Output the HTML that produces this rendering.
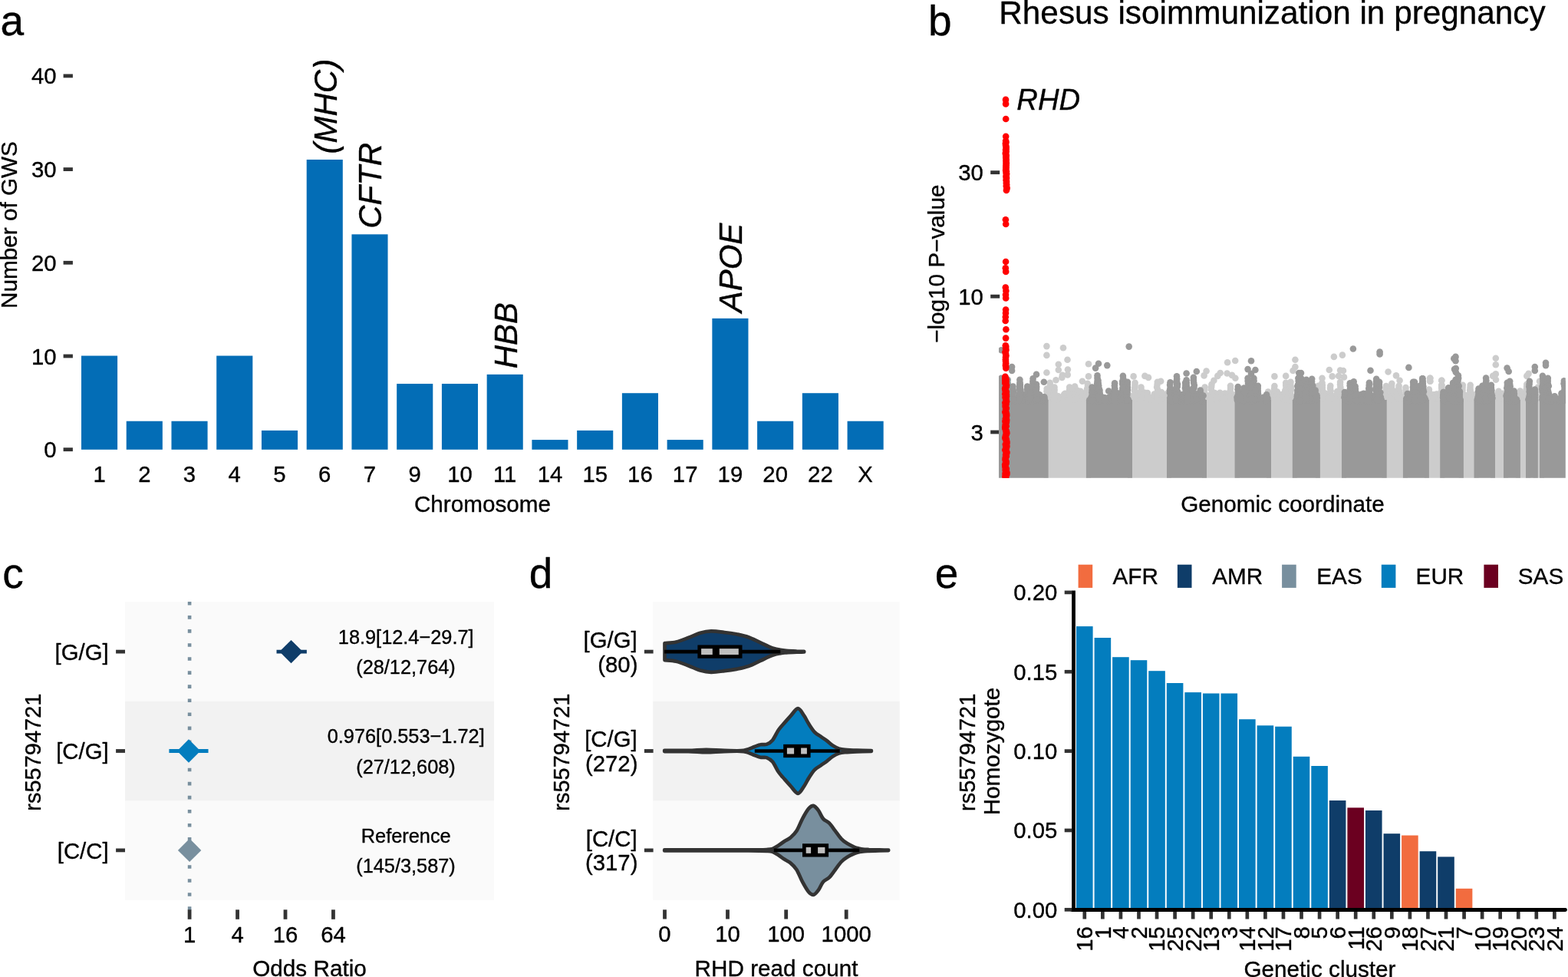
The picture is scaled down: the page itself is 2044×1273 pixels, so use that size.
<!DOCTYPE html>
<html lang="en">
<head>
<meta charset="utf-8">
<title>Rhesus isoimmunization in pregnancy</title>
<style>
html, body { margin: 0; padding: 0; background: #ffffff; }
body { width: 2044px; height: 1273px; overflow: hidden; }
svg { display: block; font-family: "Liberation Sans", sans-serif; }
svg text { stroke: #000; stroke-width: 0.35px; stroke-linejoin: round; }
</style>
</head>
<body>
<svg width="2044" height="1273" viewBox="0 0 2044 1273">
<rect width="2044" height="1273" fill="#ffffff"/>
<g id="panel-a">
<text transform="translate(0.60 46.00)" font-size="55.0" text-anchor="start" fill="#000">a</text>
<line x1="82.60" y1="585.70" x2="94.90" y2="585.70" stroke="#333333" stroke-width="4.8"/>
<text transform="translate(73.60 596.20) scale(1 1.015)" font-size="29.33" text-anchor="end" fill="#000">0</text>
<line x1="82.60" y1="464.00" x2="94.90" y2="464.00" stroke="#333333" stroke-width="4.8"/>
<text transform="translate(73.60 474.50) scale(1 1.015)" font-size="29.33" text-anchor="end" fill="#000">10</text>
<line x1="82.60" y1="342.30" x2="94.90" y2="342.30" stroke="#333333" stroke-width="4.8"/>
<text transform="translate(73.60 352.80) scale(1 1.015)" font-size="29.33" text-anchor="end" fill="#000">20</text>
<line x1="82.60" y1="220.60" x2="94.90" y2="220.60" stroke="#333333" stroke-width="4.8"/>
<text transform="translate(73.60 231.10) scale(1 1.015)" font-size="29.33" text-anchor="end" fill="#000">30</text>
<line x1="82.60" y1="98.90" x2="94.90" y2="98.90" stroke="#333333" stroke-width="4.8"/>
<text transform="translate(73.60 109.40) scale(1 1.015)" font-size="29.33" text-anchor="end" fill="#000">40</text>
<text transform="translate(22.40 293.00) rotate(-90)" font-size="29.7" text-anchor="middle" fill="#000">Number of GWS</text>
<rect x="106.00" y="463.55" width="47.10" height="122.25" fill="#036DB6"/>
<text transform="translate(129.55 628.20) scale(1 1.015)" font-size="29.33" text-anchor="middle" fill="#000">1</text>
<rect x="164.74" y="548.74" width="47.10" height="37.06" fill="#036DB6"/>
<text transform="translate(188.29 628.20) scale(1 1.015)" font-size="29.33" text-anchor="middle" fill="#000">2</text>
<rect x="223.48" y="548.74" width="47.10" height="37.06" fill="#036DB6"/>
<text transform="translate(247.03 628.20) scale(1 1.015)" font-size="29.33" text-anchor="middle" fill="#000">3</text>
<rect x="282.22" y="463.55" width="47.10" height="122.25" fill="#036DB6"/>
<text transform="translate(305.77 628.20) scale(1 1.015)" font-size="29.33" text-anchor="middle" fill="#000">4</text>
<rect x="340.96" y="560.91" width="47.10" height="24.89" fill="#036DB6"/>
<text transform="translate(364.51 628.20) scale(1 1.015)" font-size="29.33" text-anchor="middle" fill="#000">5</text>
<rect x="399.70" y="207.98" width="47.10" height="377.82" fill="#036DB6"/>
<text transform="translate(423.25 628.20) scale(1 1.015)" font-size="29.33" text-anchor="middle" fill="#000">6</text>
<rect x="458.44" y="305.34" width="47.10" height="280.46" fill="#036DB6"/>
<text transform="translate(481.99 628.20) scale(1 1.015)" font-size="29.33" text-anchor="middle" fill="#000">7</text>
<rect x="517.18" y="500.06" width="47.10" height="85.74" fill="#036DB6"/>
<text transform="translate(540.73 628.20) scale(1 1.015)" font-size="29.33" text-anchor="middle" fill="#000">9</text>
<rect x="575.92" y="500.06" width="47.10" height="85.74" fill="#036DB6"/>
<text transform="translate(599.47 628.20) scale(1 1.015)" font-size="29.33" text-anchor="middle" fill="#000">10</text>
<rect x="634.66" y="487.89" width="47.10" height="97.91" fill="#036DB6"/>
<text transform="translate(658.21 628.20) scale(1 1.015)" font-size="29.33" text-anchor="middle" fill="#000">11</text>
<rect x="693.40" y="573.08" width="47.10" height="12.72" fill="#036DB6"/>
<text transform="translate(716.95 628.20) scale(1 1.015)" font-size="29.33" text-anchor="middle" fill="#000">14</text>
<rect x="752.14" y="560.91" width="47.10" height="24.89" fill="#036DB6"/>
<text transform="translate(775.69 628.20) scale(1 1.015)" font-size="29.33" text-anchor="middle" fill="#000">15</text>
<rect x="810.88" y="512.23" width="47.10" height="73.57" fill="#036DB6"/>
<text transform="translate(834.43 628.20) scale(1 1.015)" font-size="29.33" text-anchor="middle" fill="#000">16</text>
<rect x="869.62" y="573.08" width="47.10" height="12.72" fill="#036DB6"/>
<text transform="translate(893.17 628.20) scale(1 1.015)" font-size="29.33" text-anchor="middle" fill="#000">17</text>
<rect x="928.36" y="414.87" width="47.10" height="170.93" fill="#036DB6"/>
<text transform="translate(951.91 628.20) scale(1 1.015)" font-size="29.33" text-anchor="middle" fill="#000">19</text>
<rect x="987.10" y="548.74" width="47.10" height="37.06" fill="#036DB6"/>
<text transform="translate(1010.65 628.20) scale(1 1.015)" font-size="29.33" text-anchor="middle" fill="#000">20</text>
<rect x="1045.84" y="512.23" width="47.10" height="73.57" fill="#036DB6"/>
<text transform="translate(1069.39 628.20) scale(1 1.015)" font-size="29.33" text-anchor="middle" fill="#000">22</text>
<rect x="1104.58" y="548.74" width="47.10" height="37.06" fill="#036DB6"/>
<text transform="translate(1128.13 628.20) scale(1 1.015)" font-size="29.33" text-anchor="middle" fill="#000">X</text>
<text transform="translate(629.00 667.20)" font-size="29.7" text-anchor="middle" fill="#000">Chromosome</text>
<text transform="translate(438.55 200.43) rotate(-90) scale(1 1.03)" font-size="42" text-anchor="start" font-style="italic" fill="#000">(MHC)</text>
<text transform="translate(497.29 297.79) rotate(-90) scale(1 1.03)" font-size="42" text-anchor="start" font-style="italic" fill="#000">CFTR</text>
<text transform="translate(673.51 480.34) rotate(-90) scale(1 1.03)" font-size="42" text-anchor="start" font-style="italic" fill="#000">HBB</text>
<text transform="translate(967.21 407.32) rotate(-90) scale(1 1.03)" font-size="42" text-anchor="start" font-style="italic" fill="#000">APOE</text>
</g>
<g id="panel-b">
<text transform="translate(1210.00 46.00)" font-size="55.0" text-anchor="start" fill="#000">b</text>
<text transform="translate(1302.30 30.70)" font-size="42.3" text-anchor="start" fill="#000">Rhesus isoimmunization in pregnancy</text>
<line x1="1291.20" y1="224.70" x2="1303.20" y2="224.70" stroke="#333333" stroke-width="4.8"/>
<text transform="translate(1281.80 235.20) scale(1 1.015)" font-size="29.33" text-anchor="end" fill="#000">30</text>
<line x1="1291.20" y1="386.20" x2="1303.20" y2="386.20" stroke="#333333" stroke-width="4.8"/>
<text transform="translate(1281.80 396.70) scale(1 1.015)" font-size="29.33" text-anchor="end" fill="#000">10</text>
<line x1="1291.20" y1="563.00" x2="1303.20" y2="563.00" stroke="#333333" stroke-width="4.8"/>
<text transform="translate(1281.80 573.50) scale(1 1.015)" font-size="29.33" text-anchor="end" fill="#000">3</text>
<text transform="translate(1230.80 343.70) rotate(-90)" font-size="29.7" text-anchor="middle" fill="#000">−log10 P−value</text>
<text transform="translate(1672.00 667.20)" font-size="29.7" text-anchor="middle" fill="#000">Genomic coordinate</text>
<text transform="translate(1325.30 143.00) scale(1 1.02)" font-size="38.2" text-anchor="start" font-style="italic" fill="#000">RHD</text>
<clipPath id="clipb"><rect x="1302.0" y="0" width="738.80" height="622.8"/></clipPath>
<g clip-path="url(#clipb)">
<g fill="#CCCCCC">
<rect x="1360.6" y="518.5" width="61.3" height="106.3"/>
<rect x="1470.0" y="518.5" width="57.0" height="106.3"/>
<rect x="1567.0" y="518.5" width="48.6" height="106.3"/>
<rect x="1651.0" y="518.5" width="39.8" height="106.3"/>
<rect x="1714.9" y="518.5" width="40.1" height="106.3"/>
<rect x="1801.7" y="518.5" width="33.2" height="106.3"/>
<rect x="1856.9" y="518.5" width="26.3" height="106.3"/>
<rect x="1901.9" y="518.5" width="25.6" height="106.3"/>
<rect x="1943.0" y="518.5" width="23.0" height="106.3"/>
<rect x="1975.9" y="518.5" width="19.1" height="106.3"/>
<rect x="1998.8" y="518.5" width="14.2" height="106.3"/>
<circle cx="1401.4" cy="511.8" r="4.3"/>
<circle cx="1388.5" cy="512.8" r="4.3"/>
<circle cx="1417.0" cy="511.9" r="4.3"/>
<circle cx="1384.1" cy="519.4" r="4.3"/>
<circle cx="1376.9" cy="519.4" r="4.3"/>
<circle cx="1375.7" cy="517.5" r="4.3"/>
<circle cx="1412.3" cy="515.2" r="4.3"/>
<circle cx="1390.2" cy="517.2" r="4.3"/>
<circle cx="1407.0" cy="519.8" r="4.3"/>
<circle cx="1399.7" cy="513.7" r="4.3"/>
<circle cx="1406.1" cy="516.4" r="4.3"/>
<circle cx="1390.1" cy="519.5" r="4.3"/>
<circle cx="1406.5" cy="518.9" r="4.3"/>
<circle cx="1407.1" cy="510.7" r="4.3"/>
<circle cx="1385.8" cy="518.7" r="4.3"/>
<circle cx="1414.8" cy="516.6" r="4.3"/>
<circle cx="1373.9" cy="519.6" r="4.3"/>
<circle cx="1372.9" cy="513.9" r="4.3"/>
<circle cx="1407.4" cy="519.6" r="4.3"/>
<circle cx="1408.5" cy="509.8" r="4.3"/>
<circle cx="1399.5" cy="518.9" r="4.3"/>
<circle cx="1393.8" cy="519.6" r="4.3"/>
<circle cx="1365.7" cy="510.8" r="4.3"/>
<circle cx="1399.1" cy="518.1" r="4.3"/>
<circle cx="1414.1" cy="518.5" r="4.3"/>
<circle cx="1410.8" cy="515.5" r="4.3"/>
<circle cx="1376.0" cy="519.2" r="4.3"/>
<circle cx="1380.3" cy="519.3" r="4.3"/>
<circle cx="1395.8" cy="519.2" r="4.3"/>
<circle cx="1387.0" cy="519.6" r="4.3"/>
<circle cx="1412.9" cy="518.9" r="4.3"/>
<circle cx="1389.0" cy="517.7" r="4.3"/>
<circle cx="1412.6" cy="518.6" r="4.3"/>
<circle cx="1413.3" cy="518.2" r="4.3"/>
<circle cx="1392.9" cy="518.1" r="4.3"/>
<circle cx="1365.9" cy="518.5" r="4.3"/>
<circle cx="1374.5" cy="520.0" r="4.3"/>
<circle cx="1407.0" cy="519.5" r="4.3"/>
<circle cx="1389.9" cy="516.6" r="4.3"/>
<circle cx="1394.2" cy="519.0" r="4.3"/>
<circle cx="1392.2" cy="517.9" r="4.3"/>
<circle cx="1406.2" cy="519.7" r="4.3"/>
<circle cx="1394.4" cy="519.3" r="4.3"/>
<circle cx="1379.5" cy="516.2" r="4.3"/>
<circle cx="1391.7" cy="517.9" r="4.3"/>
<circle cx="1405.0" cy="513.7" r="4.3"/>
<circle cx="1388.3" cy="517.5" r="4.3"/>
<circle cx="1391.5" cy="518.1" r="4.3"/>
<circle cx="1401.4" cy="518.4" r="4.3"/>
<circle cx="1393.0" cy="518.3" r="4.3"/>
<circle cx="1414.5" cy="516.9" r="4.3"/>
<circle cx="1411.1" cy="512.6" r="4.3"/>
<circle cx="1378.6" cy="517.9" r="4.3"/>
<circle cx="1414.6" cy="515.2" r="4.3"/>
<circle cx="1372.1" cy="519.7" r="4.3"/>
<circle cx="1388.2" cy="519.8" r="4.3"/>
<circle cx="1377.6" cy="519.8" r="4.3"/>
<circle cx="1400.2" cy="516.0" r="4.3"/>
<circle cx="1412.2" cy="519.6" r="4.3"/>
<circle cx="1402.6" cy="517.2" r="4.3"/>
<circle cx="1372.4" cy="514.4" r="4.3"/>
<circle cx="1415.9" cy="519.4" r="4.3"/>
<circle cx="1415.1" cy="518.7" r="4.3"/>
<circle cx="1390.6" cy="515.0" r="4.3"/>
<circle cx="1373.4" cy="518.5" r="4.3"/>
<circle cx="1392.1" cy="518.9" r="4.3"/>
<circle cx="1375.2" cy="519.0" r="4.3"/>
<circle cx="1403.0" cy="519.9" r="4.3"/>
<circle cx="1394.1" cy="518.5" r="4.3"/>
<circle cx="1365.9" cy="519.0" r="4.3"/>
<circle cx="1397.8" cy="518.1" r="4.3"/>
<circle cx="1368.3" cy="509.1" r="4.3"/>
<circle cx="1406.4" cy="510.7" r="4.3"/>
<circle cx="1370.4" cy="519.2" r="4.3"/>
<circle cx="1367.0" cy="516.1" r="4.3"/>
<circle cx="1379.2" cy="519.6" r="4.3"/>
<circle cx="1387.2" cy="513.7" r="4.3"/>
<circle cx="1408.1" cy="519.2" r="4.3"/>
<circle cx="1372.8" cy="513.5" r="4.3"/>
<circle cx="1481.4" cy="519.2" r="4.3"/>
<circle cx="1510.3" cy="519.1" r="4.3"/>
<circle cx="1501.8" cy="520.0" r="4.3"/>
<circle cx="1477.2" cy="519.2" r="4.3"/>
<circle cx="1506.8" cy="516.9" r="4.3"/>
<circle cx="1507.0" cy="519.1" r="4.3"/>
<circle cx="1499.3" cy="518.4" r="4.3"/>
<circle cx="1496.9" cy="519.7" r="4.3"/>
<circle cx="1517.6" cy="519.4" r="4.3"/>
<circle cx="1521.6" cy="512.8" r="4.3"/>
<circle cx="1475.1" cy="518.4" r="4.3"/>
<circle cx="1514.0" cy="511.0" r="4.3"/>
<circle cx="1496.1" cy="519.2" r="4.3"/>
<circle cx="1484.5" cy="512.4" r="4.3"/>
<circle cx="1484.5" cy="517.7" r="4.3"/>
<circle cx="1481.2" cy="518.1" r="4.3"/>
<circle cx="1520.4" cy="519.6" r="4.3"/>
<circle cx="1514.0" cy="518.2" r="4.3"/>
<circle cx="1517.2" cy="516.8" r="4.3"/>
<circle cx="1485.5" cy="514.1" r="4.3"/>
<circle cx="1497.8" cy="519.9" r="4.3"/>
<circle cx="1474.5" cy="518.2" r="4.3"/>
<circle cx="1496.1" cy="519.1" r="4.3"/>
<circle cx="1481.1" cy="518.9" r="4.3"/>
<circle cx="1489.6" cy="515.2" r="4.3"/>
<circle cx="1474.4" cy="516.4" r="4.3"/>
<circle cx="1514.9" cy="519.7" r="4.3"/>
<circle cx="1519.1" cy="516.8" r="4.3"/>
<circle cx="1517.9" cy="519.1" r="4.3"/>
<circle cx="1492.3" cy="518.7" r="4.3"/>
<circle cx="1522.6" cy="517.7" r="4.3"/>
<circle cx="1491.8" cy="518.5" r="4.3"/>
<circle cx="1487.6" cy="519.9" r="4.3"/>
<circle cx="1479.2" cy="515.3" r="4.3"/>
<circle cx="1488.1" cy="512.9" r="4.3"/>
<circle cx="1486.4" cy="519.2" r="4.3"/>
<circle cx="1499.0" cy="519.5" r="4.3"/>
<circle cx="1492.4" cy="511.9" r="4.3"/>
<circle cx="1517.1" cy="515.7" r="4.3"/>
<circle cx="1504.8" cy="513.6" r="4.3"/>
<circle cx="1519.8" cy="517.9" r="4.3"/>
<circle cx="1509.1" cy="519.9" r="4.3"/>
<circle cx="1509.7" cy="518.4" r="4.3"/>
<circle cx="1510.7" cy="517.3" r="4.3"/>
<circle cx="1488.2" cy="519.9" r="4.3"/>
<circle cx="1519.2" cy="519.6" r="4.3"/>
<circle cx="1497.2" cy="518.9" r="4.3"/>
<circle cx="1488.7" cy="516.5" r="4.3"/>
<circle cx="1521.6" cy="519.2" r="4.3"/>
<circle cx="1506.1" cy="519.1" r="4.3"/>
<circle cx="1501.3" cy="518.7" r="4.3"/>
<circle cx="1482.4" cy="519.5" r="4.3"/>
<circle cx="1484.4" cy="513.9" r="4.3"/>
<circle cx="1498.4" cy="519.4" r="4.3"/>
<circle cx="1518.2" cy="517.3" r="4.3"/>
<circle cx="1481.1" cy="519.4" r="4.3"/>
<circle cx="1478.7" cy="518.9" r="4.3"/>
<circle cx="1478.7" cy="519.3" r="4.3"/>
<circle cx="1486.8" cy="517.8" r="4.3"/>
<circle cx="1517.2" cy="516.4" r="4.3"/>
<circle cx="1494.3" cy="518.6" r="4.3"/>
<circle cx="1499.7" cy="518.8" r="4.3"/>
<circle cx="1490.7" cy="519.8" r="4.3"/>
<circle cx="1487.7" cy="511.1" r="4.3"/>
<circle cx="1480.4" cy="518.2" r="4.3"/>
<circle cx="1504.8" cy="514.8" r="4.3"/>
<circle cx="1484.8" cy="519.2" r="4.3"/>
<circle cx="1486.3" cy="518.7" r="4.3"/>
<circle cx="1495.9" cy="512.0" r="4.3"/>
<circle cx="1515.4" cy="514.6" r="4.3"/>
<circle cx="1475.4" cy="519.9" r="4.3"/>
<circle cx="1508.6" cy="514.1" r="4.3"/>
<circle cx="1497.2" cy="517.7" r="4.3"/>
<circle cx="1474.3" cy="518.7" r="4.3"/>
<circle cx="1582.3" cy="520.0" r="4.3"/>
<circle cx="1601.5" cy="513.5" r="4.3"/>
<circle cx="1596.7" cy="512.5" r="4.3"/>
<circle cx="1572.3" cy="519.3" r="4.3"/>
<circle cx="1590.3" cy="511.8" r="4.3"/>
<circle cx="1609.5" cy="518.7" r="4.3"/>
<circle cx="1581.3" cy="518.5" r="4.3"/>
<circle cx="1591.0" cy="513.2" r="4.3"/>
<circle cx="1578.6" cy="515.8" r="4.3"/>
<circle cx="1600.8" cy="515.5" r="4.3"/>
<circle cx="1602.2" cy="517.6" r="4.3"/>
<circle cx="1584.4" cy="519.0" r="4.3"/>
<circle cx="1585.8" cy="516.0" r="4.3"/>
<circle cx="1574.5" cy="519.4" r="4.3"/>
<circle cx="1601.4" cy="519.3" r="4.3"/>
<circle cx="1573.9" cy="519.9" r="4.3"/>
<circle cx="1593.4" cy="519.0" r="4.3"/>
<circle cx="1610.5" cy="514.4" r="4.3"/>
<circle cx="1610.8" cy="519.2" r="4.3"/>
<circle cx="1574.7" cy="519.7" r="4.3"/>
<circle cx="1591.2" cy="516.8" r="4.3"/>
<circle cx="1589.2" cy="519.3" r="4.3"/>
<circle cx="1588.0" cy="517.5" r="4.3"/>
<circle cx="1598.3" cy="516.4" r="4.3"/>
<circle cx="1605.2" cy="517.2" r="4.3"/>
<circle cx="1576.1" cy="515.2" r="4.3"/>
<circle cx="1583.1" cy="517.8" r="4.3"/>
<circle cx="1586.2" cy="516.5" r="4.3"/>
<circle cx="1579.3" cy="519.3" r="4.3"/>
<circle cx="1581.1" cy="519.6" r="4.3"/>
<circle cx="1606.7" cy="517.8" r="4.3"/>
<circle cx="1584.4" cy="518.7" r="4.3"/>
<circle cx="1611.0" cy="518.2" r="4.3"/>
<circle cx="1580.6" cy="515.7" r="4.3"/>
<circle cx="1597.4" cy="519.4" r="4.3"/>
<circle cx="1590.3" cy="515.6" r="4.3"/>
<circle cx="1604.9" cy="513.6" r="4.3"/>
<circle cx="1572.9" cy="519.1" r="4.3"/>
<circle cx="1576.1" cy="519.5" r="4.3"/>
<circle cx="1610.2" cy="517.7" r="4.3"/>
<circle cx="1608.5" cy="518.8" r="4.3"/>
<circle cx="1605.9" cy="518.4" r="4.3"/>
<circle cx="1581.7" cy="516.1" r="4.3"/>
<circle cx="1609.1" cy="519.7" r="4.3"/>
<circle cx="1595.1" cy="517.5" r="4.3"/>
<circle cx="1580.0" cy="518.8" r="4.3"/>
<circle cx="1577.0" cy="519.4" r="4.3"/>
<circle cx="1581.5" cy="517.6" r="4.3"/>
<circle cx="1597.4" cy="519.4" r="4.3"/>
<circle cx="1571.8" cy="519.0" r="4.3"/>
<circle cx="1598.4" cy="519.5" r="4.3"/>
<circle cx="1583.8" cy="519.4" r="4.3"/>
<circle cx="1603.1" cy="517.9" r="4.3"/>
<circle cx="1573.8" cy="519.7" r="4.3"/>
<circle cx="1587.1" cy="517.9" r="4.3"/>
<circle cx="1596.9" cy="519.8" r="4.3"/>
<circle cx="1577.8" cy="516.9" r="4.3"/>
<circle cx="1587.7" cy="519.1" r="4.3"/>
<circle cx="1583.6" cy="512.0" r="4.3"/>
<circle cx="1583.8" cy="517.8" r="4.3"/>
<circle cx="1585.6" cy="518.6" r="4.3"/>
<circle cx="1605.9" cy="517.8" r="4.3"/>
<circle cx="1579.2" cy="516.6" r="4.3"/>
<circle cx="1684.5" cy="517.0" r="4.3"/>
<circle cx="1683.2" cy="519.5" r="4.3"/>
<circle cx="1679.8" cy="519.7" r="4.3"/>
<circle cx="1671.9" cy="517.4" r="4.3"/>
<circle cx="1666.5" cy="514.6" r="4.3"/>
<circle cx="1672.6" cy="517.7" r="4.3"/>
<circle cx="1682.8" cy="519.7" r="4.3"/>
<circle cx="1686.3" cy="517.4" r="4.3"/>
<circle cx="1667.6" cy="515.8" r="4.3"/>
<circle cx="1663.6" cy="516.5" r="4.3"/>
<circle cx="1666.5" cy="516.2" r="4.3"/>
<circle cx="1669.1" cy="519.5" r="4.3"/>
<circle cx="1678.5" cy="519.9" r="4.3"/>
<circle cx="1680.9" cy="519.2" r="4.3"/>
<circle cx="1675.2" cy="509.2" r="4.3"/>
<circle cx="1673.6" cy="517.2" r="4.3"/>
<circle cx="1665.1" cy="520.0" r="4.3"/>
<circle cx="1656.4" cy="519.6" r="4.3"/>
<circle cx="1674.5" cy="518.5" r="4.3"/>
<circle cx="1671.3" cy="514.1" r="4.3"/>
<circle cx="1659.4" cy="519.3" r="4.3"/>
<circle cx="1675.7" cy="519.9" r="4.3"/>
<circle cx="1655.4" cy="518.9" r="4.3"/>
<circle cx="1658.6" cy="518.9" r="4.3"/>
<circle cx="1662.3" cy="517.7" r="4.3"/>
<circle cx="1673.7" cy="519.4" r="4.3"/>
<circle cx="1674.8" cy="518.3" r="4.3"/>
<circle cx="1659.5" cy="512.8" r="4.3"/>
<circle cx="1662.9" cy="519.6" r="4.3"/>
<circle cx="1658.3" cy="517.4" r="4.3"/>
<circle cx="1682.5" cy="516.0" r="4.3"/>
<circle cx="1667.8" cy="519.2" r="4.3"/>
<circle cx="1655.7" cy="517.3" r="4.3"/>
<circle cx="1672.8" cy="518.9" r="4.3"/>
<circle cx="1675.4" cy="518.5" r="4.3"/>
<circle cx="1684.5" cy="516.6" r="4.3"/>
<circle cx="1663.1" cy="513.9" r="4.3"/>
<circle cx="1656.7" cy="518.0" r="4.3"/>
<circle cx="1668.0" cy="519.3" r="4.3"/>
<circle cx="1657.1" cy="516.1" r="4.3"/>
<circle cx="1655.7" cy="517.9" r="4.3"/>
<circle cx="1684.7" cy="519.6" r="4.3"/>
<circle cx="1661.5" cy="517.6" r="4.3"/>
<circle cx="1671.1" cy="517.3" r="4.3"/>
<circle cx="1680.7" cy="519.5" r="4.3"/>
<circle cx="1665.0" cy="519.1" r="4.3"/>
<circle cx="1656.8" cy="514.3" r="4.3"/>
<circle cx="1679.7" cy="516.7" r="4.3"/>
<circle cx="1655.5" cy="515.2" r="4.3"/>
<circle cx="1678.5" cy="518.4" r="4.3"/>
<circle cx="1678.4" cy="518.4" r="4.3"/>
<circle cx="1746.0" cy="517.5" r="4.3"/>
<circle cx="1720.2" cy="518.6" r="4.3"/>
<circle cx="1732.9" cy="516.1" r="4.3"/>
<circle cx="1730.1" cy="516.8" r="4.3"/>
<circle cx="1736.1" cy="519.4" r="4.3"/>
<circle cx="1746.4" cy="519.8" r="4.3"/>
<circle cx="1745.0" cy="519.5" r="4.3"/>
<circle cx="1719.2" cy="519.4" r="4.3"/>
<circle cx="1743.2" cy="510.1" r="4.3"/>
<circle cx="1719.3" cy="518.2" r="4.3"/>
<circle cx="1734.7" cy="515.9" r="4.3"/>
<circle cx="1725.0" cy="518.2" r="4.3"/>
<circle cx="1730.1" cy="515.4" r="4.3"/>
<circle cx="1727.4" cy="512.5" r="4.3"/>
<circle cx="1728.1" cy="519.4" r="4.3"/>
<circle cx="1741.2" cy="518.2" r="4.3"/>
<circle cx="1722.7" cy="517.4" r="4.3"/>
<circle cx="1721.7" cy="516.0" r="4.3"/>
<circle cx="1741.2" cy="516.0" r="4.3"/>
<circle cx="1739.0" cy="518.9" r="4.3"/>
<circle cx="1731.8" cy="518.7" r="4.3"/>
<circle cx="1747.2" cy="519.8" r="4.3"/>
<circle cx="1747.2" cy="519.9" r="4.3"/>
<circle cx="1725.7" cy="519.2" r="4.3"/>
<circle cx="1747.6" cy="518.2" r="4.3"/>
<circle cx="1731.1" cy="514.4" r="4.3"/>
<circle cx="1726.6" cy="518.4" r="4.3"/>
<circle cx="1735.9" cy="516.3" r="4.3"/>
<circle cx="1742.9" cy="517.3" r="4.3"/>
<circle cx="1730.2" cy="519.0" r="4.3"/>
<circle cx="1724.1" cy="515.2" r="4.3"/>
<circle cx="1740.1" cy="516.5" r="4.3"/>
<circle cx="1724.5" cy="518.5" r="4.3"/>
<circle cx="1743.6" cy="517.7" r="4.3"/>
<circle cx="1723.2" cy="518.4" r="4.3"/>
<circle cx="1747.1" cy="519.3" r="4.3"/>
<circle cx="1725.2" cy="519.1" r="4.3"/>
<circle cx="1741.3" cy="515.2" r="4.3"/>
<circle cx="1724.1" cy="519.6" r="4.3"/>
<circle cx="1727.0" cy="519.0" r="4.3"/>
<circle cx="1735.6" cy="519.5" r="4.3"/>
<circle cx="1729.5" cy="519.5" r="4.3"/>
<circle cx="1749.9" cy="516.6" r="4.3"/>
<circle cx="1722.4" cy="511.5" r="4.3"/>
<circle cx="1722.4" cy="518.7" r="4.3"/>
<circle cx="1750.2" cy="515.9" r="4.3"/>
<circle cx="1742.3" cy="518.5" r="4.3"/>
<circle cx="1725.4" cy="517.4" r="4.3"/>
<circle cx="1722.6" cy="519.4" r="4.3"/>
<circle cx="1731.4" cy="519.9" r="4.3"/>
<circle cx="1731.8" cy="515.9" r="4.3"/>
<circle cx="1741.0" cy="518.2" r="4.3"/>
<circle cx="1811.8" cy="519.6" r="4.3"/>
<circle cx="1818.1" cy="519.8" r="4.3"/>
<circle cx="1817.5" cy="519.6" r="4.3"/>
<circle cx="1818.1" cy="518.2" r="4.3"/>
<circle cx="1819.3" cy="514.8" r="4.3"/>
<circle cx="1806.2" cy="515.2" r="4.3"/>
<circle cx="1817.5" cy="517.9" r="4.3"/>
<circle cx="1822.4" cy="515.2" r="4.3"/>
<circle cx="1815.2" cy="518.6" r="4.3"/>
<circle cx="1829.6" cy="519.8" r="4.3"/>
<circle cx="1821.7" cy="517.4" r="4.3"/>
<circle cx="1806.7" cy="517.6" r="4.3"/>
<circle cx="1822.8" cy="513.0" r="4.3"/>
<circle cx="1814.1" cy="509.6" r="4.3"/>
<circle cx="1818.6" cy="518.3" r="4.3"/>
<circle cx="1828.1" cy="519.9" r="4.3"/>
<circle cx="1823.7" cy="517.4" r="4.3"/>
<circle cx="1814.3" cy="514.9" r="4.3"/>
<circle cx="1815.0" cy="518.3" r="4.3"/>
<circle cx="1818.9" cy="516.2" r="4.3"/>
<circle cx="1811.2" cy="518.5" r="4.3"/>
<circle cx="1816.4" cy="517.9" r="4.3"/>
<circle cx="1826.3" cy="519.1" r="4.3"/>
<circle cx="1826.4" cy="518.7" r="4.3"/>
<circle cx="1818.4" cy="519.2" r="4.3"/>
<circle cx="1818.5" cy="510.4" r="4.3"/>
<circle cx="1822.1" cy="515.9" r="4.3"/>
<circle cx="1814.1" cy="519.0" r="4.3"/>
<circle cx="1813.4" cy="517.7" r="4.3"/>
<circle cx="1821.6" cy="516.0" r="4.3"/>
<circle cx="1807.0" cy="516.7" r="4.3"/>
<circle cx="1827.8" cy="518.0" r="4.3"/>
<circle cx="1807.2" cy="519.1" r="4.3"/>
<circle cx="1806.2" cy="519.5" r="4.3"/>
<circle cx="1828.7" cy="517.6" r="4.3"/>
<circle cx="1822.2" cy="516.0" r="4.3"/>
<circle cx="1828.4" cy="517.5" r="4.3"/>
<circle cx="1821.2" cy="517.4" r="4.3"/>
<circle cx="1823.1" cy="517.6" r="4.3"/>
<circle cx="1822.8" cy="519.4" r="4.3"/>
<circle cx="1822.4" cy="518.4" r="4.3"/>
<circle cx="1824.8" cy="519.7" r="4.3"/>
<circle cx="1810.5" cy="519.9" r="4.3"/>
<circle cx="1873.6" cy="515.4" r="4.3"/>
<circle cx="1867.1" cy="517.6" r="4.3"/>
<circle cx="1878.5" cy="515.4" r="4.3"/>
<circle cx="1871.8" cy="519.0" r="4.3"/>
<circle cx="1868.8" cy="514.3" r="4.3"/>
<circle cx="1867.9" cy="517.0" r="4.3"/>
<circle cx="1871.9" cy="514.1" r="4.3"/>
<circle cx="1875.5" cy="519.1" r="4.3"/>
<circle cx="1861.2" cy="519.2" r="4.3"/>
<circle cx="1868.7" cy="517.7" r="4.3"/>
<circle cx="1875.6" cy="514.3" r="4.3"/>
<circle cx="1861.9" cy="515.3" r="4.3"/>
<circle cx="1875.6" cy="514.8" r="4.3"/>
<circle cx="1871.3" cy="519.2" r="4.3"/>
<circle cx="1876.3" cy="515.7" r="4.3"/>
<circle cx="1873.3" cy="513.6" r="4.3"/>
<circle cx="1867.3" cy="519.8" r="4.3"/>
<circle cx="1871.0" cy="515.8" r="4.3"/>
<circle cx="1864.7" cy="516.4" r="4.3"/>
<circle cx="1877.7" cy="519.3" r="4.3"/>
<circle cx="1871.9" cy="517.1" r="4.3"/>
<circle cx="1869.4" cy="519.4" r="4.3"/>
<circle cx="1865.7" cy="516.4" r="4.3"/>
<circle cx="1875.2" cy="518.4" r="4.3"/>
<circle cx="1862.8" cy="515.7" r="4.3"/>
<circle cx="1874.9" cy="519.3" r="4.3"/>
<circle cx="1871.5" cy="514.1" r="4.3"/>
<circle cx="1876.9" cy="518.1" r="4.3"/>
<circle cx="1869.6" cy="517.7" r="4.3"/>
<circle cx="1864.5" cy="519.4" r="4.3"/>
<circle cx="1864.4" cy="516.9" r="4.3"/>
<circle cx="1867.6" cy="517.8" r="4.3"/>
<circle cx="1868.3" cy="518.1" r="4.3"/>
<circle cx="1863.8" cy="519.9" r="4.3"/>
<circle cx="1909.5" cy="519.9" r="4.3"/>
<circle cx="1922.0" cy="519.4" r="4.3"/>
<circle cx="1922.1" cy="514.8" r="4.3"/>
<circle cx="1921.3" cy="519.6" r="4.3"/>
<circle cx="1913.8" cy="519.7" r="4.3"/>
<circle cx="1922.0" cy="515.2" r="4.3"/>
<circle cx="1916.9" cy="518.4" r="4.3"/>
<circle cx="1912.0" cy="515.5" r="4.3"/>
<circle cx="1914.3" cy="517.4" r="4.3"/>
<circle cx="1908.6" cy="519.3" r="4.3"/>
<circle cx="1907.2" cy="516.7" r="4.3"/>
<circle cx="1915.6" cy="519.6" r="4.3"/>
<circle cx="1921.0" cy="519.2" r="4.3"/>
<circle cx="1913.2" cy="519.6" r="4.3"/>
<circle cx="1910.8" cy="515.2" r="4.3"/>
<circle cx="1911.9" cy="519.5" r="4.3"/>
<circle cx="1914.5" cy="519.0" r="4.3"/>
<circle cx="1921.6" cy="519.7" r="4.3"/>
<circle cx="1922.8" cy="519.8" r="4.3"/>
<circle cx="1921.4" cy="517.1" r="4.3"/>
<circle cx="1909.8" cy="518.3" r="4.3"/>
<circle cx="1911.1" cy="519.2" r="4.3"/>
<circle cx="1909.6" cy="518.8" r="4.3"/>
<circle cx="1923.0" cy="514.4" r="4.3"/>
<circle cx="1907.9" cy="519.1" r="4.3"/>
<circle cx="1921.4" cy="519.8" r="4.3"/>
<circle cx="1918.6" cy="519.1" r="4.3"/>
<circle cx="1922.8" cy="520.0" r="4.3"/>
<circle cx="1919.9" cy="518.9" r="4.3"/>
<circle cx="1908.6" cy="520.0" r="4.3"/>
<circle cx="1920.3" cy="518.1" r="4.3"/>
<circle cx="1909.4" cy="518.5" r="4.3"/>
<circle cx="1921.7" cy="519.4" r="4.3"/>
<circle cx="1955.6" cy="518.1" r="4.3"/>
<circle cx="1957.4" cy="519.7" r="4.3"/>
<circle cx="1959.8" cy="516.7" r="4.3"/>
<circle cx="1948.0" cy="519.7" r="4.3"/>
<circle cx="1954.4" cy="518.2" r="4.3"/>
<circle cx="1951.3" cy="519.7" r="4.3"/>
<circle cx="1953.1" cy="519.6" r="4.3"/>
<circle cx="1955.8" cy="514.9" r="4.3"/>
<circle cx="1949.4" cy="517.8" r="4.3"/>
<circle cx="1958.1" cy="519.5" r="4.3"/>
<circle cx="1959.2" cy="512.8" r="4.3"/>
<circle cx="1952.9" cy="518.6" r="4.3"/>
<circle cx="1959.4" cy="518.1" r="4.3"/>
<circle cx="1953.0" cy="512.6" r="4.3"/>
<circle cx="1958.5" cy="518.9" r="4.3"/>
<circle cx="1950.8" cy="518.9" r="4.3"/>
<circle cx="1953.6" cy="509.7" r="4.3"/>
<circle cx="1958.9" cy="513.7" r="4.3"/>
<circle cx="1959.0" cy="515.1" r="4.3"/>
<circle cx="1948.1" cy="518.1" r="4.3"/>
<circle cx="1961.1" cy="512.9" r="4.3"/>
<circle cx="1950.9" cy="518.6" r="4.3"/>
<circle cx="1956.4" cy="518.8" r="4.3"/>
<circle cx="1954.9" cy="519.8" r="4.3"/>
<circle cx="1953.5" cy="518.2" r="4.3"/>
<circle cx="1947.6" cy="519.6" r="4.3"/>
<circle cx="1961.3" cy="516.1" r="4.3"/>
<circle cx="1960.8" cy="517.4" r="4.3"/>
<circle cx="1959.0" cy="514.4" r="4.3"/>
<circle cx="1988.3" cy="519.6" r="4.3"/>
<circle cx="1980.9" cy="514.7" r="4.3"/>
<circle cx="1984.8" cy="519.8" r="4.3"/>
<circle cx="1984.3" cy="518.5" r="4.3"/>
<circle cx="1987.9" cy="519.7" r="4.3"/>
<circle cx="1982.6" cy="511.7" r="4.3"/>
<circle cx="1988.0" cy="519.6" r="4.3"/>
<circle cx="1983.7" cy="518.9" r="4.3"/>
<circle cx="1987.3" cy="517.5" r="4.3"/>
<circle cx="1989.1" cy="515.5" r="4.3"/>
<circle cx="1985.6" cy="516.5" r="4.3"/>
<circle cx="1988.0" cy="516.3" r="4.3"/>
<circle cx="1985.2" cy="516.0" r="4.3"/>
<circle cx="1987.6" cy="513.6" r="4.3"/>
<circle cx="1981.5" cy="514.7" r="4.3"/>
<circle cx="1980.2" cy="516.2" r="4.3"/>
<circle cx="1986.4" cy="518.2" r="4.3"/>
<circle cx="1990.3" cy="517.8" r="4.3"/>
<circle cx="1984.6" cy="516.0" r="4.3"/>
<circle cx="1989.4" cy="517.6" r="4.3"/>
<circle cx="1984.2" cy="518.4" r="4.3"/>
<circle cx="1985.0" cy="516.7" r="4.3"/>
<circle cx="1983.3" cy="518.7" r="4.3"/>
<circle cx="1986.0" cy="518.7" r="4.3"/>
<circle cx="2006.2" cy="517.8" r="4.3"/>
<circle cx="2008.0" cy="511.3" r="4.3"/>
<circle cx="2005.8" cy="518.5" r="4.3"/>
<circle cx="2006.6" cy="517.9" r="4.3"/>
<circle cx="2006.1" cy="515.6" r="4.3"/>
<circle cx="2004.1" cy="519.0" r="4.3"/>
<circle cx="2008.6" cy="515.5" r="4.3"/>
<circle cx="2006.0" cy="519.7" r="4.3"/>
<circle cx="2008.1" cy="517.0" r="4.3"/>
<circle cx="2007.7" cy="514.7" r="4.3"/>
<circle cx="2005.5" cy="519.6" r="4.3"/>
<circle cx="2004.7" cy="518.1" r="4.3"/>
<circle cx="2005.9" cy="519.5" r="4.3"/>
<circle cx="2004.1" cy="517.4" r="4.3"/>
<circle cx="2006.5" cy="518.9" r="4.3"/>
<circle cx="2008.7" cy="517.4" r="4.3"/>
<circle cx="2003.3" cy="518.6" r="4.3"/>
<circle cx="2007.5" cy="519.0" r="4.3"/>
<circle cx="1364.4" cy="451.1" r="4.3"/>
<circle cx="1364.4" cy="462.9" r="4.3"/>
<circle cx="1386.0" cy="453.3" r="4.3"/>
<circle cx="1391.5" cy="468.8" r="4.3"/>
<circle cx="1379.8" cy="474.7" r="4.3"/>
<circle cx="1379.8" cy="482.0" r="4.3"/>
<circle cx="1391.9" cy="481.5" r="4.3"/>
<circle cx="1364.4" cy="485.5" r="4.3"/>
<circle cx="1384.9" cy="488.9" r="4.3"/>
<circle cx="1391.7" cy="488.4" r="4.3"/>
<circle cx="1376.5" cy="495.3" r="4.3"/>
<circle cx="1368.7" cy="498.7" r="4.3"/>
<circle cx="1384.4" cy="491.9" r="4.3"/>
<circle cx="1364.7" cy="506.6" r="4.3"/>
<circle cx="1374.5" cy="504.6" r="4.3"/>
<circle cx="1419.0" cy="474.2" r="4.3"/>
<circle cx="1419.0" cy="490.4" r="4.3"/>
<circle cx="1410.9" cy="496.8" r="4.3"/>
<circle cx="1417.7" cy="499.7" r="4.3"/>
<circle cx="1394.2" cy="504.6" r="4.3"/>
<circle cx="1401.1" cy="503.6" r="4.3"/>
<circle cx="1404.0" cy="508.5" r="4.3"/>
<circle cx="1416.8" cy="508.5" r="4.3"/>
<circle cx="1477.6" cy="490.4" r="4.3"/>
<circle cx="1479.6" cy="498.7" r="4.3"/>
<circle cx="1492.4" cy="489.9" r="4.3"/>
<circle cx="1487.5" cy="504.6" r="4.3"/>
<circle cx="1497.0" cy="491.9" r="4.3"/>
<circle cx="1508.8" cy="497.7" r="4.3"/>
<circle cx="1513.2" cy="496.8" r="4.3"/>
<circle cx="1572.6" cy="483.5" r="4.3"/>
<circle cx="1569.6" cy="489.4" r="4.3"/>
<circle cx="1600.1" cy="472.2" r="4.3"/>
<circle cx="1610.2" cy="470.0" r="4.3"/>
<circle cx="1590.7" cy="486.0" r="4.3"/>
<circle cx="1587.3" cy="489.9" r="4.3"/>
<circle cx="1599.6" cy="486.5" r="4.3"/>
<circle cx="1606.0" cy="488.9" r="4.3"/>
<circle cx="1610.4" cy="492.8" r="4.3"/>
<circle cx="1582.4" cy="495.8" r="4.3"/>
<circle cx="1604.0" cy="502.7" r="4.3"/>
<circle cx="1579.5" cy="500.7" r="4.3"/>
<circle cx="1570.6" cy="504.6" r="4.3"/>
<circle cx="1661.4" cy="490.4" r="4.3"/>
<circle cx="1661.4" cy="503.1" r="4.3"/>
<circle cx="1688.4" cy="468.8" r="4.3"/>
<circle cx="1688.4" cy="478.1" r="4.3"/>
<circle cx="1685.5" cy="483.0" r="4.3"/>
<circle cx="1676.2" cy="489.9" r="4.3"/>
<circle cx="1676.2" cy="498.7" r="4.3"/>
<circle cx="1682.5" cy="497.7" r="4.3"/>
<circle cx="1653.1" cy="510.5" r="4.3"/>
<circle cx="1664.9" cy="510.5" r="4.3"/>
<circle cx="1676.2" cy="510.5" r="4.3"/>
<circle cx="1738.9" cy="464.9" r="4.3"/>
<circle cx="1749.9" cy="462.6" r="4.3"/>
<circle cx="1732.8" cy="482.0" r="4.3"/>
<circle cx="1747.1" cy="482.5" r="4.3"/>
<circle cx="1751.0" cy="483.0" r="4.3"/>
<circle cx="1736.7" cy="490.4" r="4.3"/>
<circle cx="1745.1" cy="489.9" r="4.3"/>
<circle cx="1752.0" cy="491.4" r="4.3"/>
<circle cx="1723.5" cy="492.8" r="4.3"/>
<circle cx="1747.1" cy="497.7" r="4.3"/>
<circle cx="1723.5" cy="498.7" r="4.3"/>
<circle cx="1718.6" cy="502.7" r="4.3"/>
<circle cx="1734.3" cy="502.7" r="4.3"/>
<circle cx="1809.6" cy="484.5" r="4.3"/>
<circle cx="1820.0" cy="489.4" r="4.3"/>
<circle cx="1824.6" cy="495.8" r="4.3"/>
<circle cx="1814.3" cy="499.7" r="4.3"/>
<circle cx="1806.9" cy="503.1" r="4.3"/>
<circle cx="1823.6" cy="502.7" r="4.3"/>
<circle cx="1832.5" cy="505.1" r="4.3"/>
<circle cx="1864.4" cy="492.8" r="4.3"/>
<circle cx="1864.4" cy="496.8" r="4.3"/>
<circle cx="1879.3" cy="495.8" r="4.3"/>
<circle cx="1879.3" cy="501.7" r="4.3"/>
<circle cx="1862.9" cy="507.6" r="4.3"/>
<circle cx="1864.1" cy="492.8" r="4.3"/>
<circle cx="1864.1" cy="496.8" r="4.3"/>
<circle cx="1879.3" cy="495.8" r="4.3"/>
<circle cx="1879.3" cy="501.7" r="4.3"/>
<circle cx="1906.8" cy="501.7" r="4.3"/>
<circle cx="1916.7" cy="501.7" r="4.3"/>
<circle cx="1916.7" cy="508.5" r="4.3"/>
<circle cx="1949.8" cy="466.8" r="4.3"/>
<circle cx="1949.8" cy="475.2" r="4.3"/>
<circle cx="1949.8" cy="487.4" r="4.3"/>
<circle cx="1946.1" cy="489.9" r="4.3"/>
<circle cx="1950.0" cy="494.8" r="4.3"/>
<circle cx="1992.6" cy="486.9" r="4.3"/>
<circle cx="1990.3" cy="489.9" r="4.3"/>
<circle cx="1990.3" cy="500.7" r="4.3"/>
<circle cx="1981.5" cy="509.5" r="4.3"/>
<circle cx="2007.0" cy="496.8" r="4.3"/>
<circle cx="2005.0" cy="504.6" r="4.3"/>
<circle cx="1992.3" cy="509.5" r="4.3"/>
<circle cx="1369.0" cy="502.1" r="4.3"/>
<circle cx="1368.2" cy="505.5" r="4.3"/>
<circle cx="1369.6" cy="508.9" r="4.3"/>
<circle cx="1368.7" cy="512.3" r="4.3"/>
<circle cx="1368.1" cy="515.7" r="4.3"/>
<circle cx="1368.6" cy="519.1" r="4.3"/>
<circle cx="1364.5" cy="510.0" r="4.3"/>
<circle cx="1365.0" cy="513.4" r="4.3"/>
<circle cx="1364.3" cy="516.8" r="4.3"/>
<circle cx="1365.5" cy="520.2" r="4.3"/>
<circle cx="1374.6" cy="508.0" r="4.3"/>
<circle cx="1374.4" cy="511.4" r="4.3"/>
<circle cx="1374.0" cy="514.8" r="4.3"/>
<circle cx="1374.8" cy="518.2" r="4.3"/>
<circle cx="1374.0" cy="521.6" r="4.3"/>
<circle cx="1418.0" cy="503.1" r="4.3"/>
<circle cx="1417.2" cy="506.5" r="4.3"/>
<circle cx="1417.8" cy="509.9" r="4.3"/>
<circle cx="1417.8" cy="513.3" r="4.3"/>
<circle cx="1417.3" cy="516.7" r="4.3"/>
<circle cx="1418.3" cy="520.1" r="4.3"/>
<circle cx="1394.1" cy="508.0" r="4.3"/>
<circle cx="1394.4" cy="511.4" r="4.3"/>
<circle cx="1394.3" cy="514.8" r="4.3"/>
<circle cx="1393.8" cy="518.2" r="4.3"/>
<circle cx="1394.0" cy="521.6" r="4.3"/>
<circle cx="1400.8" cy="507.0" r="4.3"/>
<circle cx="1400.6" cy="510.4" r="4.3"/>
<circle cx="1401.8" cy="513.8" r="4.3"/>
<circle cx="1400.7" cy="517.2" r="4.3"/>
<circle cx="1401.4" cy="520.6" r="4.3"/>
<circle cx="1403.7" cy="511.9" r="4.3"/>
<circle cx="1404.1" cy="515.3" r="4.3"/>
<circle cx="1403.7" cy="518.7" r="4.3"/>
<circle cx="1416.8" cy="511.9" r="4.3"/>
<circle cx="1416.5" cy="515.3" r="4.3"/>
<circle cx="1415.9" cy="518.7" r="4.3"/>
<circle cx="1479.5" cy="502.1" r="4.3"/>
<circle cx="1479.2" cy="505.5" r="4.3"/>
<circle cx="1478.9" cy="508.9" r="4.3"/>
<circle cx="1480.0" cy="512.3" r="4.3"/>
<circle cx="1479.2" cy="515.7" r="4.3"/>
<circle cx="1479.4" cy="519.1" r="4.3"/>
<circle cx="1487.7" cy="508.0" r="4.3"/>
<circle cx="1487.8" cy="511.4" r="4.3"/>
<circle cx="1488.2" cy="514.8" r="4.3"/>
<circle cx="1488.2" cy="518.2" r="4.3"/>
<circle cx="1486.7" cy="521.6" r="4.3"/>
<circle cx="1508.6" cy="501.1" r="4.3"/>
<circle cx="1508.1" cy="504.5" r="4.3"/>
<circle cx="1509.1" cy="507.9" r="4.3"/>
<circle cx="1509.1" cy="511.3" r="4.3"/>
<circle cx="1508.5" cy="514.7" r="4.3"/>
<circle cx="1508.6" cy="518.1" r="4.3"/>
<circle cx="1509.1" cy="521.5" r="4.3"/>
<circle cx="1604.1" cy="506.1" r="4.3"/>
<circle cx="1603.6" cy="509.5" r="4.3"/>
<circle cx="1604.7" cy="512.9" r="4.3"/>
<circle cx="1603.7" cy="516.3" r="4.3"/>
<circle cx="1604.3" cy="519.7" r="4.3"/>
<circle cx="1579.2" cy="504.1" r="4.3"/>
<circle cx="1578.9" cy="507.5" r="4.3"/>
<circle cx="1580.3" cy="510.9" r="4.3"/>
<circle cx="1579.9" cy="514.3" r="4.3"/>
<circle cx="1579.9" cy="517.7" r="4.3"/>
<circle cx="1578.5" cy="521.1" r="4.3"/>
<circle cx="1570.3" cy="508.0" r="4.3"/>
<circle cx="1570.1" cy="511.4" r="4.3"/>
<circle cx="1570.0" cy="514.8" r="4.3"/>
<circle cx="1570.2" cy="518.2" r="4.3"/>
<circle cx="1570.4" cy="521.6" r="4.3"/>
<circle cx="1661.1" cy="506.5" r="4.3"/>
<circle cx="1661.2" cy="509.9" r="4.3"/>
<circle cx="1661.7" cy="513.3" r="4.3"/>
<circle cx="1660.8" cy="516.7" r="4.3"/>
<circle cx="1662.1" cy="520.1" r="4.3"/>
<circle cx="1676.2" cy="502.1" r="4.3"/>
<circle cx="1676.5" cy="505.5" r="4.3"/>
<circle cx="1675.7" cy="508.9" r="4.3"/>
<circle cx="1676.0" cy="512.3" r="4.3"/>
<circle cx="1676.5" cy="515.7" r="4.3"/>
<circle cx="1675.9" cy="519.1" r="4.3"/>
<circle cx="1682.2" cy="501.1" r="4.3"/>
<circle cx="1683.0" cy="504.5" r="4.3"/>
<circle cx="1683.1" cy="507.9" r="4.3"/>
<circle cx="1682.1" cy="511.3" r="4.3"/>
<circle cx="1681.6" cy="514.7" r="4.3"/>
<circle cx="1683.3" cy="518.1" r="4.3"/>
<circle cx="1682.8" cy="521.5" r="4.3"/>
<circle cx="1652.8" cy="513.9" r="4.3"/>
<circle cx="1652.7" cy="517.3" r="4.3"/>
<circle cx="1652.3" cy="520.7" r="4.3"/>
<circle cx="1665.1" cy="513.9" r="4.3"/>
<circle cx="1664.5" cy="517.3" r="4.3"/>
<circle cx="1665.7" cy="520.7" r="4.3"/>
<circle cx="1676.3" cy="513.9" r="4.3"/>
<circle cx="1675.6" cy="517.3" r="4.3"/>
<circle cx="1676.6" cy="520.7" r="4.3"/>
<circle cx="1747.0" cy="501.1" r="4.3"/>
<circle cx="1747.4" cy="504.5" r="4.3"/>
<circle cx="1747.7" cy="507.9" r="4.3"/>
<circle cx="1746.6" cy="511.3" r="4.3"/>
<circle cx="1746.2" cy="514.7" r="4.3"/>
<circle cx="1747.9" cy="518.1" r="4.3"/>
<circle cx="1746.9" cy="521.5" r="4.3"/>
<circle cx="1723.8" cy="502.1" r="4.3"/>
<circle cx="1723.8" cy="505.5" r="4.3"/>
<circle cx="1724.0" cy="508.9" r="4.3"/>
<circle cx="1724.2" cy="512.3" r="4.3"/>
<circle cx="1723.7" cy="515.7" r="4.3"/>
<circle cx="1723.4" cy="519.1" r="4.3"/>
<circle cx="1718.3" cy="506.1" r="4.3"/>
<circle cx="1718.9" cy="509.5" r="4.3"/>
<circle cx="1718.4" cy="512.9" r="4.3"/>
<circle cx="1718.6" cy="516.3" r="4.3"/>
<circle cx="1719.4" cy="519.7" r="4.3"/>
<circle cx="1734.0" cy="506.1" r="4.3"/>
<circle cx="1734.7" cy="509.5" r="4.3"/>
<circle cx="1733.4" cy="512.9" r="4.3"/>
<circle cx="1734.7" cy="516.3" r="4.3"/>
<circle cx="1734.9" cy="519.7" r="4.3"/>
<circle cx="1814.1" cy="503.1" r="4.3"/>
<circle cx="1814.4" cy="506.5" r="4.3"/>
<circle cx="1815.3" cy="509.9" r="4.3"/>
<circle cx="1814.6" cy="513.3" r="4.3"/>
<circle cx="1814.4" cy="516.7" r="4.3"/>
<circle cx="1813.8" cy="520.1" r="4.3"/>
<circle cx="1806.6" cy="506.5" r="4.3"/>
<circle cx="1806.7" cy="509.9" r="4.3"/>
<circle cx="1806.8" cy="513.3" r="4.3"/>
<circle cx="1806.4" cy="516.7" r="4.3"/>
<circle cx="1806.6" cy="520.1" r="4.3"/>
<circle cx="1823.4" cy="506.1" r="4.3"/>
<circle cx="1823.9" cy="509.5" r="4.3"/>
<circle cx="1824.0" cy="512.9" r="4.3"/>
<circle cx="1823.1" cy="516.3" r="4.3"/>
<circle cx="1823.1" cy="519.7" r="4.3"/>
<circle cx="1832.5" cy="508.5" r="4.3"/>
<circle cx="1832.4" cy="511.9" r="4.3"/>
<circle cx="1833.3" cy="515.3" r="4.3"/>
<circle cx="1832.2" cy="518.7" r="4.3"/>
<circle cx="1879.2" cy="505.1" r="4.3"/>
<circle cx="1879.8" cy="508.5" r="4.3"/>
<circle cx="1878.6" cy="511.9" r="4.3"/>
<circle cx="1879.4" cy="515.3" r="4.3"/>
<circle cx="1879.0" cy="518.7" r="4.3"/>
<circle cx="1863.1" cy="511.0" r="4.3"/>
<circle cx="1863.0" cy="514.4" r="4.3"/>
<circle cx="1863.4" cy="517.8" r="4.3"/>
<circle cx="1862.3" cy="521.2" r="4.3"/>
<circle cx="1879.5" cy="505.1" r="4.3"/>
<circle cx="1879.5" cy="508.5" r="4.3"/>
<circle cx="1879.3" cy="511.9" r="4.3"/>
<circle cx="1879.9" cy="515.3" r="4.3"/>
<circle cx="1880.0" cy="518.7" r="4.3"/>
<circle cx="1906.6" cy="505.1" r="4.3"/>
<circle cx="1906.5" cy="508.5" r="4.3"/>
<circle cx="1906.6" cy="511.9" r="4.3"/>
<circle cx="1906.3" cy="515.3" r="4.3"/>
<circle cx="1906.0" cy="518.7" r="4.3"/>
<circle cx="1916.5" cy="505.1" r="4.3"/>
<circle cx="1916.2" cy="508.5" r="4.3"/>
<circle cx="1917.1" cy="511.9" r="4.3"/>
<circle cx="1916.6" cy="515.3" r="4.3"/>
<circle cx="1915.9" cy="518.7" r="4.3"/>
<circle cx="1916.5" cy="511.9" r="4.3"/>
<circle cx="1916.6" cy="515.3" r="4.3"/>
<circle cx="1916.4" cy="518.7" r="4.3"/>
<circle cx="1990.1" cy="504.1" r="4.3"/>
<circle cx="1989.7" cy="507.5" r="4.3"/>
<circle cx="1989.3" cy="510.9" r="4.3"/>
<circle cx="1991.3" cy="514.3" r="4.3"/>
<circle cx="1990.8" cy="517.7" r="4.3"/>
<circle cx="1989.5" cy="521.1" r="4.3"/>
<circle cx="1981.6" cy="512.9" r="4.3"/>
<circle cx="1982.1" cy="516.3" r="4.3"/>
<circle cx="1981.6" cy="519.7" r="4.3"/>
<circle cx="2004.7" cy="508.0" r="4.3"/>
<circle cx="2005.0" cy="511.4" r="4.3"/>
<circle cx="2004.9" cy="514.8" r="4.3"/>
<circle cx="2004.4" cy="518.2" r="4.3"/>
<circle cx="2005.1" cy="521.6" r="4.3"/>
<circle cx="1991.9" cy="512.9" r="4.3"/>
<circle cx="1992.8" cy="516.3" r="4.3"/>
<circle cx="1992.5" cy="519.7" r="4.3"/>
</g>
<g fill="#999999">
<rect x="1296.0" y="521.0" width="70.6" height="103.8"/>
<rect x="1415.9" y="521.0" width="60.1" height="103.8"/>
<rect x="1521.0" y="521.0" width="52.0" height="103.8"/>
<rect x="1609.6" y="521.0" width="47.4" height="103.8"/>
<rect x="1684.8" y="521.0" width="36.1" height="103.8"/>
<rect x="1749.0" y="521.0" width="58.7" height="103.8"/>
<rect x="1828.9" y="521.0" width="34.0" height="103.8"/>
<rect x="1877.2" y="521.0" width="30.7" height="103.8"/>
<rect x="1921.5" y="521.0" width="27.5" height="103.8"/>
<rect x="1960.0" y="521.0" width="21.9" height="103.8"/>
<rect x="1989.0" y="521.0" width="15.8" height="103.8"/>
<rect x="2007.0" y="521.0" width="39.0" height="103.8"/>
<circle cx="1320.4" cy="522.1" r="4.3"/>
<circle cx="1340.7" cy="522.3" r="4.3"/>
<circle cx="1333.5" cy="521.3" r="4.3"/>
<circle cx="1303.9" cy="520.7" r="4.3"/>
<circle cx="1302.6" cy="521.0" r="4.3"/>
<circle cx="1304.6" cy="522.3" r="4.3"/>
<circle cx="1326.6" cy="517.9" r="4.3"/>
<circle cx="1308.0" cy="521.8" r="4.3"/>
<circle cx="1339.2" cy="514.8" r="4.3"/>
<circle cx="1336.1" cy="521.2" r="4.3"/>
<circle cx="1360.8" cy="522.4" r="4.3"/>
<circle cx="1353.5" cy="521.6" r="4.3"/>
<circle cx="1309.2" cy="522.2" r="4.3"/>
<circle cx="1319.4" cy="518.1" r="4.3"/>
<circle cx="1311.5" cy="520.2" r="4.3"/>
<circle cx="1339.9" cy="521.3" r="4.3"/>
<circle cx="1334.3" cy="522.3" r="4.3"/>
<circle cx="1304.0" cy="521.9" r="4.3"/>
<circle cx="1342.5" cy="521.0" r="4.3"/>
<circle cx="1319.8" cy="520.2" r="4.3"/>
<circle cx="1328.4" cy="521.6" r="4.3"/>
<circle cx="1349.6" cy="519.4" r="4.3"/>
<circle cx="1315.4" cy="520.3" r="4.3"/>
<circle cx="1332.9" cy="517.1" r="4.3"/>
<circle cx="1345.5" cy="521.6" r="4.3"/>
<circle cx="1361.1" cy="522.2" r="4.3"/>
<circle cx="1326.2" cy="518.8" r="4.3"/>
<circle cx="1309.7" cy="520.8" r="4.3"/>
<circle cx="1302.7" cy="519.6" r="4.3"/>
<circle cx="1347.7" cy="520.3" r="4.3"/>
<circle cx="1354.6" cy="521.5" r="4.3"/>
<circle cx="1343.4" cy="520.2" r="4.3"/>
<circle cx="1336.3" cy="520.9" r="4.3"/>
<circle cx="1352.4" cy="515.0" r="4.3"/>
<circle cx="1329.7" cy="519.7" r="4.3"/>
<circle cx="1304.1" cy="519.4" r="4.3"/>
<circle cx="1340.4" cy="517.6" r="4.3"/>
<circle cx="1317.9" cy="521.2" r="4.3"/>
<circle cx="1341.8" cy="522.4" r="4.3"/>
<circle cx="1328.9" cy="522.0" r="4.3"/>
<circle cx="1307.6" cy="522.3" r="4.3"/>
<circle cx="1347.9" cy="522.1" r="4.3"/>
<circle cx="1315.7" cy="521.2" r="4.3"/>
<circle cx="1354.3" cy="522.3" r="4.3"/>
<circle cx="1328.1" cy="520.4" r="4.3"/>
<circle cx="1355.1" cy="518.1" r="4.3"/>
<circle cx="1353.9" cy="521.7" r="4.3"/>
<circle cx="1326.0" cy="521.3" r="4.3"/>
<circle cx="1355.1" cy="514.3" r="4.3"/>
<circle cx="1309.7" cy="522.0" r="4.3"/>
<circle cx="1314.7" cy="521.8" r="4.3"/>
<circle cx="1330.4" cy="520.2" r="4.3"/>
<circle cx="1316.6" cy="522.5" r="4.3"/>
<circle cx="1326.3" cy="521.3" r="4.3"/>
<circle cx="1335.4" cy="514.5" r="4.3"/>
<circle cx="1343.1" cy="520.6" r="4.3"/>
<circle cx="1338.6" cy="519.6" r="4.3"/>
<circle cx="1303.6" cy="516.5" r="4.3"/>
<circle cx="1348.7" cy="517.1" r="4.3"/>
<circle cx="1349.8" cy="521.2" r="4.3"/>
<circle cx="1325.0" cy="522.2" r="4.3"/>
<circle cx="1339.6" cy="522.3" r="4.3"/>
<circle cx="1304.5" cy="521.9" r="4.3"/>
<circle cx="1310.4" cy="521.4" r="4.3"/>
<circle cx="1303.6" cy="522.5" r="4.3"/>
<circle cx="1309.7" cy="522.2" r="4.3"/>
<circle cx="1322.8" cy="522.4" r="4.3"/>
<circle cx="1354.5" cy="520.0" r="4.3"/>
<circle cx="1309.5" cy="521.7" r="4.3"/>
<circle cx="1321.8" cy="521.3" r="4.3"/>
<circle cx="1307.9" cy="517.6" r="4.3"/>
<circle cx="1361.9" cy="520.9" r="4.3"/>
<circle cx="1330.3" cy="522.3" r="4.3"/>
<circle cx="1306.6" cy="521.4" r="4.3"/>
<circle cx="1316.7" cy="517.9" r="4.3"/>
<circle cx="1310.3" cy="522.4" r="4.3"/>
<circle cx="1359.3" cy="520.5" r="4.3"/>
<circle cx="1309.4" cy="520.5" r="4.3"/>
<circle cx="1302.0" cy="520.5" r="4.3"/>
<circle cx="1361.0" cy="517.3" r="4.3"/>
<circle cx="1343.5" cy="521.7" r="4.3"/>
<circle cx="1323.0" cy="522.0" r="4.3"/>
<circle cx="1348.2" cy="520.5" r="4.3"/>
<circle cx="1348.6" cy="521.5" r="4.3"/>
<circle cx="1314.1" cy="518.2" r="4.3"/>
<circle cx="1361.4" cy="517.5" r="4.3"/>
<circle cx="1350.3" cy="518.1" r="4.3"/>
<circle cx="1346.2" cy="521.8" r="4.3"/>
<circle cx="1332.4" cy="521.4" r="4.3"/>
<circle cx="1302.1" cy="522.4" r="4.3"/>
<circle cx="1317.6" cy="521.7" r="4.3"/>
<circle cx="1449.6" cy="519.4" r="4.3"/>
<circle cx="1424.8" cy="522.3" r="4.3"/>
<circle cx="1455.6" cy="521.1" r="4.3"/>
<circle cx="1423.9" cy="515.3" r="4.3"/>
<circle cx="1452.9" cy="518.3" r="4.3"/>
<circle cx="1424.5" cy="517.5" r="4.3"/>
<circle cx="1423.6" cy="517.3" r="4.3"/>
<circle cx="1443.6" cy="521.4" r="4.3"/>
<circle cx="1448.7" cy="515.7" r="4.3"/>
<circle cx="1434.0" cy="522.1" r="4.3"/>
<circle cx="1447.3" cy="521.8" r="4.3"/>
<circle cx="1425.8" cy="522.0" r="4.3"/>
<circle cx="1422.8" cy="521.9" r="4.3"/>
<circle cx="1436.3" cy="521.6" r="4.3"/>
<circle cx="1459.3" cy="521.6" r="4.3"/>
<circle cx="1446.0" cy="522.0" r="4.3"/>
<circle cx="1438.1" cy="522.5" r="4.3"/>
<circle cx="1433.1" cy="522.5" r="4.3"/>
<circle cx="1458.0" cy="520.4" r="4.3"/>
<circle cx="1430.0" cy="520.8" r="4.3"/>
<circle cx="1468.3" cy="522.2" r="4.3"/>
<circle cx="1462.4" cy="521.0" r="4.3"/>
<circle cx="1445.7" cy="517.8" r="4.3"/>
<circle cx="1440.4" cy="520.7" r="4.3"/>
<circle cx="1455.6" cy="512.0" r="4.3"/>
<circle cx="1437.8" cy="517.9" r="4.3"/>
<circle cx="1456.6" cy="519.9" r="4.3"/>
<circle cx="1441.0" cy="521.4" r="4.3"/>
<circle cx="1423.0" cy="522.1" r="4.3"/>
<circle cx="1423.8" cy="519.0" r="4.3"/>
<circle cx="1433.4" cy="522.0" r="4.3"/>
<circle cx="1424.6" cy="517.7" r="4.3"/>
<circle cx="1465.0" cy="519.6" r="4.3"/>
<circle cx="1434.7" cy="521.8" r="4.3"/>
<circle cx="1435.3" cy="520.9" r="4.3"/>
<circle cx="1428.3" cy="521.0" r="4.3"/>
<circle cx="1433.8" cy="514.0" r="4.3"/>
<circle cx="1470.3" cy="520.4" r="4.3"/>
<circle cx="1432.8" cy="513.7" r="4.3"/>
<circle cx="1436.1" cy="521.4" r="4.3"/>
<circle cx="1420.3" cy="521.3" r="4.3"/>
<circle cx="1444.6" cy="520.7" r="4.3"/>
<circle cx="1430.6" cy="520.7" r="4.3"/>
<circle cx="1420.5" cy="521.7" r="4.3"/>
<circle cx="1424.8" cy="521.2" r="4.3"/>
<circle cx="1422.3" cy="522.4" r="4.3"/>
<circle cx="1435.9" cy="521.8" r="4.3"/>
<circle cx="1450.4" cy="520.5" r="4.3"/>
<circle cx="1458.9" cy="519.7" r="4.3"/>
<circle cx="1457.1" cy="517.0" r="4.3"/>
<circle cx="1440.3" cy="521.5" r="4.3"/>
<circle cx="1470.9" cy="522.1" r="4.3"/>
<circle cx="1457.5" cy="519.8" r="4.3"/>
<circle cx="1422.5" cy="517.8" r="4.3"/>
<circle cx="1466.1" cy="519.9" r="4.3"/>
<circle cx="1458.0" cy="518.2" r="4.3"/>
<circle cx="1427.4" cy="520.6" r="4.3"/>
<circle cx="1446.2" cy="517.8" r="4.3"/>
<circle cx="1461.6" cy="517.9" r="4.3"/>
<circle cx="1450.3" cy="516.7" r="4.3"/>
<circle cx="1455.4" cy="519.4" r="4.3"/>
<circle cx="1432.0" cy="522.4" r="4.3"/>
<circle cx="1427.1" cy="521.3" r="4.3"/>
<circle cx="1425.6" cy="517.8" r="4.3"/>
<circle cx="1449.0" cy="519.9" r="4.3"/>
<circle cx="1452.5" cy="519.5" r="4.3"/>
<circle cx="1445.4" cy="522.5" r="4.3"/>
<circle cx="1461.3" cy="518.9" r="4.3"/>
<circle cx="1446.1" cy="520.5" r="4.3"/>
<circle cx="1454.2" cy="522.3" r="4.3"/>
<circle cx="1458.1" cy="521.7" r="4.3"/>
<circle cx="1424.0" cy="521.7" r="4.3"/>
<circle cx="1457.8" cy="521.9" r="4.3"/>
<circle cx="1458.3" cy="512.8" r="4.3"/>
<circle cx="1445.6" cy="521.2" r="4.3"/>
<circle cx="1444.9" cy="519.5" r="4.3"/>
<circle cx="1459.7" cy="520.0" r="4.3"/>
<circle cx="1453.3" cy="522.3" r="4.3"/>
<circle cx="1565.5" cy="518.0" r="4.3"/>
<circle cx="1562.4" cy="513.2" r="4.3"/>
<circle cx="1536.1" cy="522.2" r="4.3"/>
<circle cx="1532.0" cy="520.6" r="4.3"/>
<circle cx="1554.9" cy="515.1" r="4.3"/>
<circle cx="1556.6" cy="519.8" r="4.3"/>
<circle cx="1558.5" cy="520.9" r="4.3"/>
<circle cx="1549.2" cy="522.4" r="4.3"/>
<circle cx="1559.3" cy="521.8" r="4.3"/>
<circle cx="1565.2" cy="519.8" r="4.3"/>
<circle cx="1538.5" cy="522.1" r="4.3"/>
<circle cx="1536.2" cy="519.9" r="4.3"/>
<circle cx="1555.6" cy="522.2" r="4.3"/>
<circle cx="1528.4" cy="520.6" r="4.3"/>
<circle cx="1550.6" cy="521.2" r="4.3"/>
<circle cx="1535.0" cy="520.1" r="4.3"/>
<circle cx="1525.8" cy="521.6" r="4.3"/>
<circle cx="1545.3" cy="514.2" r="4.3"/>
<circle cx="1553.3" cy="516.9" r="4.3"/>
<circle cx="1545.9" cy="521.8" r="4.3"/>
<circle cx="1536.0" cy="514.1" r="4.3"/>
<circle cx="1555.9" cy="521.5" r="4.3"/>
<circle cx="1526.2" cy="520.7" r="4.3"/>
<circle cx="1554.6" cy="521.1" r="4.3"/>
<circle cx="1536.5" cy="519.6" r="4.3"/>
<circle cx="1565.5" cy="521.8" r="4.3"/>
<circle cx="1526.8" cy="521.4" r="4.3"/>
<circle cx="1543.6" cy="519.5" r="4.3"/>
<circle cx="1533.9" cy="518.4" r="4.3"/>
<circle cx="1557.4" cy="520.7" r="4.3"/>
<circle cx="1534.2" cy="513.4" r="4.3"/>
<circle cx="1538.8" cy="518.0" r="4.3"/>
<circle cx="1535.3" cy="521.8" r="4.3"/>
<circle cx="1558.3" cy="521.6" r="4.3"/>
<circle cx="1566.6" cy="520.7" r="4.3"/>
<circle cx="1533.4" cy="521.8" r="4.3"/>
<circle cx="1543.4" cy="519.7" r="4.3"/>
<circle cx="1566.5" cy="522.1" r="4.3"/>
<circle cx="1542.4" cy="521.9" r="4.3"/>
<circle cx="1567.6" cy="522.1" r="4.3"/>
<circle cx="1527.5" cy="522.3" r="4.3"/>
<circle cx="1542.4" cy="516.6" r="4.3"/>
<circle cx="1563.6" cy="519.1" r="4.3"/>
<circle cx="1568.6" cy="515.5" r="4.3"/>
<circle cx="1539.6" cy="522.0" r="4.3"/>
<circle cx="1565.9" cy="518.9" r="4.3"/>
<circle cx="1526.7" cy="519.7" r="4.3"/>
<circle cx="1541.7" cy="521.3" r="4.3"/>
<circle cx="1539.7" cy="522.0" r="4.3"/>
<circle cx="1525.4" cy="521.6" r="4.3"/>
<circle cx="1540.6" cy="514.4" r="4.3"/>
<circle cx="1530.7" cy="513.8" r="4.3"/>
<circle cx="1534.3" cy="521.4" r="4.3"/>
<circle cx="1561.0" cy="518.0" r="4.3"/>
<circle cx="1544.1" cy="522.4" r="4.3"/>
<circle cx="1545.8" cy="521.3" r="4.3"/>
<circle cx="1565.2" cy="521.9" r="4.3"/>
<circle cx="1541.1" cy="516.6" r="4.3"/>
<circle cx="1526.6" cy="521.1" r="4.3"/>
<circle cx="1560.5" cy="518.7" r="4.3"/>
<circle cx="1527.1" cy="522.4" r="4.3"/>
<circle cx="1528.0" cy="515.9" r="4.3"/>
<circle cx="1536.5" cy="518.9" r="4.3"/>
<circle cx="1564.3" cy="521.4" r="4.3"/>
<circle cx="1537.1" cy="514.3" r="4.3"/>
<circle cx="1552.1" cy="521.7" r="4.3"/>
<circle cx="1556.4" cy="521.5" r="4.3"/>
<circle cx="1621.8" cy="522.5" r="4.3"/>
<circle cx="1648.9" cy="521.1" r="4.3"/>
<circle cx="1645.7" cy="521.1" r="4.3"/>
<circle cx="1648.2" cy="520.9" r="4.3"/>
<circle cx="1620.2" cy="522.5" r="4.3"/>
<circle cx="1635.3" cy="519.8" r="4.3"/>
<circle cx="1649.2" cy="522.3" r="4.3"/>
<circle cx="1638.0" cy="521.3" r="4.3"/>
<circle cx="1633.5" cy="522.1" r="4.3"/>
<circle cx="1624.9" cy="520.6" r="4.3"/>
<circle cx="1649.8" cy="522.2" r="4.3"/>
<circle cx="1632.9" cy="518.3" r="4.3"/>
<circle cx="1651.4" cy="521.9" r="4.3"/>
<circle cx="1618.8" cy="515.0" r="4.3"/>
<circle cx="1651.8" cy="520.8" r="4.3"/>
<circle cx="1616.0" cy="515.7" r="4.3"/>
<circle cx="1629.0" cy="516.4" r="4.3"/>
<circle cx="1638.0" cy="518.0" r="4.3"/>
<circle cx="1620.1" cy="518.5" r="4.3"/>
<circle cx="1622.5" cy="521.2" r="4.3"/>
<circle cx="1646.7" cy="517.9" r="4.3"/>
<circle cx="1621.0" cy="521.9" r="4.3"/>
<circle cx="1629.4" cy="520.6" r="4.3"/>
<circle cx="1628.8" cy="522.2" r="4.3"/>
<circle cx="1623.5" cy="519.1" r="4.3"/>
<circle cx="1648.7" cy="522.4" r="4.3"/>
<circle cx="1635.7" cy="518.8" r="4.3"/>
<circle cx="1615.4" cy="517.8" r="4.3"/>
<circle cx="1618.5" cy="520.1" r="4.3"/>
<circle cx="1635.2" cy="519.9" r="4.3"/>
<circle cx="1625.8" cy="521.1" r="4.3"/>
<circle cx="1636.5" cy="521.1" r="4.3"/>
<circle cx="1639.5" cy="521.0" r="4.3"/>
<circle cx="1630.9" cy="522.4" r="4.3"/>
<circle cx="1637.9" cy="520.8" r="4.3"/>
<circle cx="1623.0" cy="518.8" r="4.3"/>
<circle cx="1644.2" cy="520.9" r="4.3"/>
<circle cx="1620.9" cy="520.8" r="4.3"/>
<circle cx="1618.1" cy="522.1" r="4.3"/>
<circle cx="1630.6" cy="522.2" r="4.3"/>
<circle cx="1631.0" cy="520.6" r="4.3"/>
<circle cx="1615.5" cy="519.9" r="4.3"/>
<circle cx="1617.1" cy="519.1" r="4.3"/>
<circle cx="1644.1" cy="520.6" r="4.3"/>
<circle cx="1616.0" cy="520.7" r="4.3"/>
<circle cx="1628.6" cy="514.7" r="4.3"/>
<circle cx="1619.2" cy="517.4" r="4.3"/>
<circle cx="1652.5" cy="519.1" r="4.3"/>
<circle cx="1645.5" cy="521.9" r="4.3"/>
<circle cx="1652.0" cy="520.7" r="4.3"/>
<circle cx="1651.0" cy="516.1" r="4.3"/>
<circle cx="1620.3" cy="518.5" r="4.3"/>
<circle cx="1650.0" cy="522.3" r="4.3"/>
<circle cx="1627.5" cy="518.8" r="4.3"/>
<circle cx="1620.1" cy="516.6" r="4.3"/>
<circle cx="1624.6" cy="518.1" r="4.3"/>
<circle cx="1619.5" cy="520.7" r="4.3"/>
<circle cx="1649.6" cy="521.9" r="4.3"/>
<circle cx="1624.1" cy="520.7" r="4.3"/>
<circle cx="1626.3" cy="522.4" r="4.3"/>
<circle cx="1621.0" cy="522.0" r="4.3"/>
<circle cx="1695.3" cy="522.2" r="4.3"/>
<circle cx="1695.5" cy="522.4" r="4.3"/>
<circle cx="1698.3" cy="518.9" r="4.3"/>
<circle cx="1708.2" cy="517.6" r="4.3"/>
<circle cx="1708.7" cy="521.7" r="4.3"/>
<circle cx="1704.3" cy="521.0" r="4.3"/>
<circle cx="1710.8" cy="520.6" r="4.3"/>
<circle cx="1696.4" cy="519.8" r="4.3"/>
<circle cx="1715.6" cy="521.9" r="4.3"/>
<circle cx="1713.3" cy="522.5" r="4.3"/>
<circle cx="1696.3" cy="521.8" r="4.3"/>
<circle cx="1709.6" cy="515.0" r="4.3"/>
<circle cx="1709.6" cy="521.5" r="4.3"/>
<circle cx="1713.3" cy="521.5" r="4.3"/>
<circle cx="1695.7" cy="516.3" r="4.3"/>
<circle cx="1706.4" cy="519.4" r="4.3"/>
<circle cx="1707.4" cy="512.5" r="4.3"/>
<circle cx="1702.0" cy="517.7" r="4.3"/>
<circle cx="1708.3" cy="517.4" r="4.3"/>
<circle cx="1701.1" cy="519.1" r="4.3"/>
<circle cx="1704.8" cy="521.5" r="4.3"/>
<circle cx="1694.9" cy="520.0" r="4.3"/>
<circle cx="1691.2" cy="516.2" r="4.3"/>
<circle cx="1693.1" cy="522.4" r="4.3"/>
<circle cx="1692.0" cy="515.6" r="4.3"/>
<circle cx="1698.6" cy="522.1" r="4.3"/>
<circle cx="1689.9" cy="522.4" r="4.3"/>
<circle cx="1708.1" cy="519.9" r="4.3"/>
<circle cx="1708.3" cy="519.0" r="4.3"/>
<circle cx="1690.9" cy="520.2" r="4.3"/>
<circle cx="1699.1" cy="518.1" r="4.3"/>
<circle cx="1711.6" cy="516.7" r="4.3"/>
<circle cx="1690.9" cy="517.2" r="4.3"/>
<circle cx="1714.2" cy="515.0" r="4.3"/>
<circle cx="1692.0" cy="521.9" r="4.3"/>
<circle cx="1692.2" cy="522.4" r="4.3"/>
<circle cx="1712.4" cy="518.2" r="4.3"/>
<circle cx="1706.5" cy="518.0" r="4.3"/>
<circle cx="1706.5" cy="521.6" r="4.3"/>
<circle cx="1691.8" cy="522.2" r="4.3"/>
<circle cx="1709.9" cy="521.9" r="4.3"/>
<circle cx="1697.9" cy="521.1" r="4.3"/>
<circle cx="1689.7" cy="521.7" r="4.3"/>
<circle cx="1696.9" cy="519.2" r="4.3"/>
<circle cx="1699.2" cy="521.5" r="4.3"/>
<circle cx="1715.6" cy="520.7" r="4.3"/>
<circle cx="1785.0" cy="520.9" r="4.3"/>
<circle cx="1760.4" cy="520.1" r="4.3"/>
<circle cx="1773.6" cy="519.0" r="4.3"/>
<circle cx="1798.8" cy="521.0" r="4.3"/>
<circle cx="1782.1" cy="518.9" r="4.3"/>
<circle cx="1774.4" cy="521.8" r="4.3"/>
<circle cx="1789.5" cy="517.0" r="4.3"/>
<circle cx="1792.1" cy="519.4" r="4.3"/>
<circle cx="1796.0" cy="519.5" r="4.3"/>
<circle cx="1785.4" cy="520.9" r="4.3"/>
<circle cx="1769.0" cy="519.9" r="4.3"/>
<circle cx="1758.2" cy="521.1" r="4.3"/>
<circle cx="1792.5" cy="519.3" r="4.3"/>
<circle cx="1784.8" cy="521.8" r="4.3"/>
<circle cx="1774.5" cy="520.9" r="4.3"/>
<circle cx="1784.4" cy="521.1" r="4.3"/>
<circle cx="1787.1" cy="515.6" r="4.3"/>
<circle cx="1762.5" cy="519.7" r="4.3"/>
<circle cx="1792.3" cy="521.2" r="4.3"/>
<circle cx="1777.8" cy="512.9" r="4.3"/>
<circle cx="1755.2" cy="520.5" r="4.3"/>
<circle cx="1761.4" cy="518.5" r="4.3"/>
<circle cx="1800.4" cy="520.6" r="4.3"/>
<circle cx="1758.4" cy="520.3" r="4.3"/>
<circle cx="1780.4" cy="519.2" r="4.3"/>
<circle cx="1779.0" cy="519.8" r="4.3"/>
<circle cx="1794.8" cy="520.6" r="4.3"/>
<circle cx="1773.9" cy="514.8" r="4.3"/>
<circle cx="1763.8" cy="519.5" r="4.3"/>
<circle cx="1773.0" cy="518.8" r="4.3"/>
<circle cx="1759.4" cy="511.7" r="4.3"/>
<circle cx="1771.1" cy="522.3" r="4.3"/>
<circle cx="1767.0" cy="521.2" r="4.3"/>
<circle cx="1754.0" cy="521.1" r="4.3"/>
<circle cx="1774.4" cy="519.4" r="4.3"/>
<circle cx="1770.9" cy="521.7" r="4.3"/>
<circle cx="1764.5" cy="519.0" r="4.3"/>
<circle cx="1800.4" cy="520.6" r="4.3"/>
<circle cx="1764.3" cy="518.3" r="4.3"/>
<circle cx="1772.9" cy="521.9" r="4.3"/>
<circle cx="1759.8" cy="518.6" r="4.3"/>
<circle cx="1793.9" cy="519.9" r="4.3"/>
<circle cx="1776.8" cy="520.4" r="4.3"/>
<circle cx="1764.6" cy="513.9" r="4.3"/>
<circle cx="1771.0" cy="519.9" r="4.3"/>
<circle cx="1794.3" cy="518.1" r="4.3"/>
<circle cx="1776.8" cy="521.6" r="4.3"/>
<circle cx="1780.8" cy="522.2" r="4.3"/>
<circle cx="1795.1" cy="521.4" r="4.3"/>
<circle cx="1795.9" cy="521.7" r="4.3"/>
<circle cx="1772.1" cy="521.7" r="4.3"/>
<circle cx="1774.6" cy="522.0" r="4.3"/>
<circle cx="1753.4" cy="519.2" r="4.3"/>
<circle cx="1767.4" cy="521.8" r="4.3"/>
<circle cx="1768.4" cy="520.8" r="4.3"/>
<circle cx="1774.8" cy="519.9" r="4.3"/>
<circle cx="1786.3" cy="521.3" r="4.3"/>
<circle cx="1799.8" cy="517.5" r="4.3"/>
<circle cx="1756.2" cy="517.9" r="4.3"/>
<circle cx="1798.7" cy="518.5" r="4.3"/>
<circle cx="1760.3" cy="517.9" r="4.3"/>
<circle cx="1785.0" cy="522.5" r="4.3"/>
<circle cx="1753.9" cy="514.6" r="4.3"/>
<circle cx="1786.2" cy="521.8" r="4.3"/>
<circle cx="1758.4" cy="522.1" r="4.3"/>
<circle cx="1765.0" cy="518.6" r="4.3"/>
<circle cx="1770.7" cy="522.1" r="4.3"/>
<circle cx="1798.6" cy="518.4" r="4.3"/>
<circle cx="1761.7" cy="516.7" r="4.3"/>
<circle cx="1783.8" cy="518.5" r="4.3"/>
<circle cx="1786.8" cy="516.7" r="4.3"/>
<circle cx="1792.8" cy="517.8" r="4.3"/>
<circle cx="1763.2" cy="519.4" r="4.3"/>
<circle cx="1779.9" cy="519.0" r="4.3"/>
<circle cx="1775.3" cy="516.9" r="4.3"/>
<circle cx="1781.1" cy="521.7" r="4.3"/>
<circle cx="1852.9" cy="516.1" r="4.3"/>
<circle cx="1849.9" cy="521.3" r="4.3"/>
<circle cx="1854.1" cy="518.5" r="4.3"/>
<circle cx="1847.5" cy="521.7" r="4.3"/>
<circle cx="1840.9" cy="521.1" r="4.3"/>
<circle cx="1841.3" cy="521.0" r="4.3"/>
<circle cx="1849.5" cy="515.4" r="4.3"/>
<circle cx="1834.6" cy="520.3" r="4.3"/>
<circle cx="1834.2" cy="522.2" r="4.3"/>
<circle cx="1853.8" cy="520.3" r="4.3"/>
<circle cx="1856.5" cy="521.0" r="4.3"/>
<circle cx="1833.6" cy="521.2" r="4.3"/>
<circle cx="1848.2" cy="515.3" r="4.3"/>
<circle cx="1858.1" cy="520.8" r="4.3"/>
<circle cx="1843.7" cy="522.2" r="4.3"/>
<circle cx="1849.6" cy="521.9" r="4.3"/>
<circle cx="1837.1" cy="522.5" r="4.3"/>
<circle cx="1833.3" cy="519.5" r="4.3"/>
<circle cx="1836.3" cy="513.7" r="4.3"/>
<circle cx="1835.4" cy="517.2" r="4.3"/>
<circle cx="1836.5" cy="522.5" r="4.3"/>
<circle cx="1851.5" cy="521.8" r="4.3"/>
<circle cx="1851.8" cy="522.0" r="4.3"/>
<circle cx="1834.5" cy="518.6" r="4.3"/>
<circle cx="1851.3" cy="517.5" r="4.3"/>
<circle cx="1851.7" cy="522.3" r="4.3"/>
<circle cx="1849.2" cy="519.3" r="4.3"/>
<circle cx="1844.9" cy="515.5" r="4.3"/>
<circle cx="1839.7" cy="513.8" r="4.3"/>
<circle cx="1851.4" cy="522.5" r="4.3"/>
<circle cx="1833.6" cy="519.8" r="4.3"/>
<circle cx="1854.0" cy="522.3" r="4.3"/>
<circle cx="1841.1" cy="519.1" r="4.3"/>
<circle cx="1837.4" cy="517.4" r="4.3"/>
<circle cx="1845.6" cy="522.3" r="4.3"/>
<circle cx="1842.5" cy="520.3" r="4.3"/>
<circle cx="1844.3" cy="519.6" r="4.3"/>
<circle cx="1836.9" cy="518.3" r="4.3"/>
<circle cx="1842.4" cy="519.8" r="4.3"/>
<circle cx="1849.2" cy="521.1" r="4.3"/>
<circle cx="1843.0" cy="518.5" r="4.3"/>
<circle cx="1857.2" cy="518.5" r="4.3"/>
<circle cx="1847.6" cy="521.6" r="4.3"/>
<circle cx="1834.7" cy="513.0" r="4.3"/>
<circle cx="1903.5" cy="521.3" r="4.3"/>
<circle cx="1883.8" cy="519.9" r="4.3"/>
<circle cx="1898.9" cy="522.1" r="4.3"/>
<circle cx="1894.7" cy="521.4" r="4.3"/>
<circle cx="1893.0" cy="522.4" r="4.3"/>
<circle cx="1882.2" cy="517.3" r="4.3"/>
<circle cx="1892.2" cy="520.3" r="4.3"/>
<circle cx="1887.3" cy="518.6" r="4.3"/>
<circle cx="1890.9" cy="514.9" r="4.3"/>
<circle cx="1898.5" cy="518.1" r="4.3"/>
<circle cx="1902.8" cy="521.7" r="4.3"/>
<circle cx="1882.3" cy="521.9" r="4.3"/>
<circle cx="1885.5" cy="522.3" r="4.3"/>
<circle cx="1882.6" cy="520.4" r="4.3"/>
<circle cx="1900.7" cy="520.9" r="4.3"/>
<circle cx="1902.4" cy="516.2" r="4.3"/>
<circle cx="1882.9" cy="520.1" r="4.3"/>
<circle cx="1890.3" cy="522.2" r="4.3"/>
<circle cx="1902.7" cy="521.7" r="4.3"/>
<circle cx="1894.0" cy="519.8" r="4.3"/>
<circle cx="1902.6" cy="519.6" r="4.3"/>
<circle cx="1890.2" cy="521.0" r="4.3"/>
<circle cx="1885.0" cy="513.7" r="4.3"/>
<circle cx="1903.4" cy="521.8" r="4.3"/>
<circle cx="1882.4" cy="521.7" r="4.3"/>
<circle cx="1889.3" cy="516.4" r="4.3"/>
<circle cx="1901.5" cy="517.8" r="4.3"/>
<circle cx="1882.5" cy="518.5" r="4.3"/>
<circle cx="1897.2" cy="519.8" r="4.3"/>
<circle cx="1903.3" cy="522.4" r="4.3"/>
<circle cx="1884.7" cy="518.8" r="4.3"/>
<circle cx="1902.3" cy="519.6" r="4.3"/>
<circle cx="1888.1" cy="520.2" r="4.3"/>
<circle cx="1898.2" cy="522.2" r="4.3"/>
<circle cx="1888.7" cy="521.7" r="4.3"/>
<circle cx="1884.2" cy="520.8" r="4.3"/>
<circle cx="1885.2" cy="521.8" r="4.3"/>
<circle cx="1884.7" cy="519.6" r="4.3"/>
<circle cx="1881.8" cy="519.2" r="4.3"/>
<circle cx="1936.6" cy="522.1" r="4.3"/>
<circle cx="1929.2" cy="518.7" r="4.3"/>
<circle cx="1939.2" cy="521.9" r="4.3"/>
<circle cx="1927.3" cy="522.3" r="4.3"/>
<circle cx="1937.3" cy="520.7" r="4.3"/>
<circle cx="1931.0" cy="521.9" r="4.3"/>
<circle cx="1937.4" cy="519.3" r="4.3"/>
<circle cx="1941.1" cy="520.2" r="4.3"/>
<circle cx="1929.6" cy="522.3" r="4.3"/>
<circle cx="1939.6" cy="521.1" r="4.3"/>
<circle cx="1939.4" cy="522.4" r="4.3"/>
<circle cx="1941.1" cy="521.4" r="4.3"/>
<circle cx="1941.7" cy="517.3" r="4.3"/>
<circle cx="1935.1" cy="522.5" r="4.3"/>
<circle cx="1943.0" cy="520.8" r="4.3"/>
<circle cx="1942.3" cy="521.7" r="4.3"/>
<circle cx="1929.3" cy="517.9" r="4.3"/>
<circle cx="1932.7" cy="522.0" r="4.3"/>
<circle cx="1932.8" cy="520.2" r="4.3"/>
<circle cx="1925.9" cy="520.6" r="4.3"/>
<circle cx="1934.2" cy="520.6" r="4.3"/>
<circle cx="1928.1" cy="519.2" r="4.3"/>
<circle cx="1941.2" cy="517.3" r="4.3"/>
<circle cx="1931.9" cy="519.3" r="4.3"/>
<circle cx="1933.0" cy="518.9" r="4.3"/>
<circle cx="1927.0" cy="517.1" r="4.3"/>
<circle cx="1943.8" cy="520.7" r="4.3"/>
<circle cx="1935.5" cy="520.5" r="4.3"/>
<circle cx="1936.0" cy="522.4" r="4.3"/>
<circle cx="1944.1" cy="521.8" r="4.3"/>
<circle cx="1929.2" cy="522.2" r="4.3"/>
<circle cx="1930.5" cy="518.1" r="4.3"/>
<circle cx="1926.4" cy="522.2" r="4.3"/>
<circle cx="1939.0" cy="521.9" r="4.3"/>
<circle cx="1926.1" cy="520.1" r="4.3"/>
<circle cx="1976.1" cy="522.4" r="4.3"/>
<circle cx="1972.8" cy="521.7" r="4.3"/>
<circle cx="1973.3" cy="521.7" r="4.3"/>
<circle cx="1971.5" cy="515.8" r="4.3"/>
<circle cx="1972.6" cy="521.8" r="4.3"/>
<circle cx="1971.2" cy="521.0" r="4.3"/>
<circle cx="1976.9" cy="521.6" r="4.3"/>
<circle cx="1968.4" cy="519.8" r="4.3"/>
<circle cx="1965.9" cy="520.2" r="4.3"/>
<circle cx="1977.0" cy="520.6" r="4.3"/>
<circle cx="1967.9" cy="520.9" r="4.3"/>
<circle cx="1971.4" cy="522.1" r="4.3"/>
<circle cx="1965.9" cy="522.1" r="4.3"/>
<circle cx="1968.2" cy="521.1" r="4.3"/>
<circle cx="1968.1" cy="521.8" r="4.3"/>
<circle cx="1965.5" cy="520.4" r="4.3"/>
<circle cx="1975.5" cy="520.1" r="4.3"/>
<circle cx="1971.9" cy="519.8" r="4.3"/>
<circle cx="1967.0" cy="519.3" r="4.3"/>
<circle cx="1970.4" cy="520.4" r="4.3"/>
<circle cx="1972.5" cy="520.9" r="4.3"/>
<circle cx="1968.4" cy="521.8" r="4.3"/>
<circle cx="1967.2" cy="520.6" r="4.3"/>
<circle cx="1969.4" cy="520.2" r="4.3"/>
<circle cx="1964.5" cy="521.4" r="4.3"/>
<circle cx="1975.8" cy="521.8" r="4.3"/>
<circle cx="1971.7" cy="520.7" r="4.3"/>
<circle cx="1968.1" cy="520.7" r="4.3"/>
<circle cx="1995.6" cy="518.5" r="4.3"/>
<circle cx="1999.4" cy="520.7" r="4.3"/>
<circle cx="1996.5" cy="522.0" r="4.3"/>
<circle cx="1995.5" cy="522.1" r="4.3"/>
<circle cx="1997.4" cy="520.2" r="4.3"/>
<circle cx="1993.9" cy="515.9" r="4.3"/>
<circle cx="1995.6" cy="517.7" r="4.3"/>
<circle cx="1999.3" cy="514.2" r="4.3"/>
<circle cx="1994.8" cy="521.1" r="4.3"/>
<circle cx="1999.9" cy="522.5" r="4.3"/>
<circle cx="1993.6" cy="520.3" r="4.3"/>
<circle cx="1996.9" cy="515.9" r="4.3"/>
<circle cx="1998.9" cy="520.5" r="4.3"/>
<circle cx="2000.5" cy="520.6" r="4.3"/>
<circle cx="1997.0" cy="519.5" r="4.3"/>
<circle cx="1996.1" cy="521.3" r="4.3"/>
<circle cx="1997.6" cy="521.4" r="4.3"/>
<circle cx="2000.1" cy="519.6" r="4.3"/>
<circle cx="1997.1" cy="522.2" r="4.3"/>
<circle cx="1996.0" cy="521.2" r="4.3"/>
<circle cx="2032.3" cy="522.5" r="4.3"/>
<circle cx="2020.6" cy="517.7" r="4.3"/>
<circle cx="2029.1" cy="519.6" r="4.3"/>
<circle cx="2017.3" cy="520.7" r="4.3"/>
<circle cx="2028.1" cy="521.7" r="4.3"/>
<circle cx="2031.0" cy="520.5" r="4.3"/>
<circle cx="2041.6" cy="520.3" r="4.3"/>
<circle cx="2023.8" cy="522.2" r="4.3"/>
<circle cx="2016.1" cy="518.8" r="4.3"/>
<circle cx="2014.5" cy="522.2" r="4.3"/>
<circle cx="2016.5" cy="520.6" r="4.3"/>
<circle cx="2036.3" cy="520.0" r="4.3"/>
<circle cx="2035.8" cy="522.3" r="4.3"/>
<circle cx="2011.7" cy="518.7" r="4.3"/>
<circle cx="2021.1" cy="519.2" r="4.3"/>
<circle cx="2022.1" cy="522.0" r="4.3"/>
<circle cx="2019.4" cy="522.2" r="4.3"/>
<circle cx="2038.8" cy="520.2" r="4.3"/>
<circle cx="2021.9" cy="520.9" r="4.3"/>
<circle cx="2023.0" cy="522.4" r="4.3"/>
<circle cx="2038.4" cy="520.2" r="4.3"/>
<circle cx="2040.5" cy="521.0" r="4.3"/>
<circle cx="2030.2" cy="521.8" r="4.3"/>
<circle cx="2012.6" cy="515.6" r="4.3"/>
<circle cx="2037.3" cy="521.5" r="4.3"/>
<circle cx="2038.6" cy="518.1" r="4.3"/>
<circle cx="2020.5" cy="520.1" r="4.3"/>
<circle cx="2040.5" cy="520.7" r="4.3"/>
<circle cx="2040.2" cy="521.8" r="4.3"/>
<circle cx="2023.1" cy="519.2" r="4.3"/>
<circle cx="2018.0" cy="521.5" r="4.3"/>
<circle cx="2037.9" cy="520.8" r="4.3"/>
<circle cx="2035.4" cy="521.8" r="4.3"/>
<circle cx="2016.6" cy="521.3" r="4.3"/>
<circle cx="2017.0" cy="513.2" r="4.3"/>
<circle cx="2020.1" cy="520.4" r="4.3"/>
<circle cx="2014.8" cy="520.5" r="4.3"/>
<circle cx="2023.0" cy="521.2" r="4.3"/>
<circle cx="2013.3" cy="522.2" r="4.3"/>
<circle cx="2036.4" cy="521.4" r="4.3"/>
<circle cx="2018.7" cy="521.9" r="4.3"/>
<circle cx="2019.9" cy="521.8" r="4.3"/>
<circle cx="2012.4" cy="519.7" r="4.3"/>
<circle cx="2021.7" cy="522.1" r="4.3"/>
<circle cx="2032.8" cy="522.2" r="4.3"/>
<circle cx="2019.5" cy="517.8" r="4.3"/>
<circle cx="2015.2" cy="521.0" r="4.3"/>
<circle cx="2036.7" cy="518.3" r="4.3"/>
<circle cx="2016.1" cy="521.4" r="4.3"/>
<circle cx="2033.3" cy="521.3" r="4.3"/>
<circle cx="1305.3" cy="456.3" r="4.3"/>
<circle cx="1305.3" cy="492.8" r="4.3"/>
<circle cx="1305.3" cy="498.7" r="4.3"/>
<circle cx="1319.1" cy="478.1" r="4.3"/>
<circle cx="1319.1" cy="483.0" r="4.3"/>
<circle cx="1313.7" cy="494.8" r="4.3"/>
<circle cx="1351.0" cy="487.9" r="4.3"/>
<circle cx="1346.6" cy="493.3" r="4.3"/>
<circle cx="1360.8" cy="497.7" r="4.3"/>
<circle cx="1329.4" cy="494.8" r="4.3"/>
<circle cx="1329.4" cy="500.7" r="4.3"/>
<circle cx="1320.5" cy="503.6" r="4.3"/>
<circle cx="1339.2" cy="503.6" r="4.3"/>
<circle cx="1351.0" cy="500.7" r="4.3"/>
<circle cx="1351.0" cy="506.6" r="4.3"/>
<circle cx="1343.1" cy="508.5" r="4.3"/>
<circle cx="1432.0" cy="473.7" r="4.3"/>
<circle cx="1428.1" cy="479.6" r="4.3"/>
<circle cx="1443.3" cy="476.1" r="4.3"/>
<circle cx="1471.7" cy="451.6" r="4.3"/>
<circle cx="1430.5" cy="489.4" r="4.3"/>
<circle cx="1431.5" cy="495.8" r="4.3"/>
<circle cx="1423.6" cy="504.6" r="4.3"/>
<circle cx="1433.5" cy="508.5" r="4.3"/>
<circle cx="1463.9" cy="489.9" r="4.3"/>
<circle cx="1469.8" cy="497.7" r="4.3"/>
<circle cx="1463.9" cy="498.7" r="4.3"/>
<circle cx="1453.1" cy="499.2" r="4.3"/>
<circle cx="1453.1" cy="506.6" r="4.3"/>
<circle cx="1445.2" cy="509.5" r="4.3"/>
<circle cx="1440.3" cy="518.4" r="4.3"/>
<circle cx="1468.8" cy="507.6" r="4.3"/>
<circle cx="1534.0" cy="490.4" r="4.3"/>
<circle cx="1534.0" cy="496.8" r="4.3"/>
<circle cx="1525.5" cy="498.2" r="4.3"/>
<circle cx="1546.6" cy="486.5" r="4.3"/>
<circle cx="1546.6" cy="495.3" r="4.3"/>
<circle cx="1545.1" cy="498.7" r="4.3"/>
<circle cx="1555.9" cy="491.9" r="4.3"/>
<circle cx="1559.8" cy="484.0" r="4.3"/>
<circle cx="1547.1" cy="504.6" r="4.3"/>
<circle cx="1554.9" cy="506.6" r="4.3"/>
<circle cx="1549.0" cy="511.5" r="4.3"/>
<circle cx="1533.3" cy="507.6" r="4.3"/>
<circle cx="1564.7" cy="508.5" r="4.3"/>
<circle cx="1559.8" cy="513.5" r="4.3"/>
<circle cx="1631.0" cy="470.3" r="4.3"/>
<circle cx="1626.6" cy="481.1" r="4.3"/>
<circle cx="1636.4" cy="482.0" r="4.3"/>
<circle cx="1631.0" cy="486.9" r="4.3"/>
<circle cx="1626.6" cy="492.8" r="4.3"/>
<circle cx="1634.4" cy="492.8" r="4.3"/>
<circle cx="1631.0" cy="498.7" r="4.3"/>
<circle cx="1613.8" cy="504.1" r="4.3"/>
<circle cx="1639.8" cy="502.7" r="4.3"/>
<circle cx="1621.7" cy="505.6" r="4.3"/>
<circle cx="1636.4" cy="506.6" r="4.3"/>
<circle cx="1631.0" cy="509.5" r="4.3"/>
<circle cx="1651.1" cy="514.4" r="4.3"/>
<circle cx="1616.8" cy="513.5" r="4.3"/>
<circle cx="1693.3" cy="486.0" r="4.3"/>
<circle cx="1692.4" cy="492.8" r="4.3"/>
<circle cx="1692.4" cy="500.7" r="4.3"/>
<circle cx="1691.4" cy="508.5" r="4.3"/>
<circle cx="1763.9" cy="454.5" r="4.3"/>
<circle cx="1798.6" cy="458.5" r="4.3"/>
<circle cx="1798.6" cy="461.4" r="4.3"/>
<circle cx="1786.5" cy="482.7" r="4.3"/>
<circle cx="1836.4" cy="478.9" r="4.3"/>
<circle cx="1696.0" cy="486.0" r="4.3"/>
<circle cx="1696.0" cy="492.8" r="4.3"/>
<circle cx="1702.9" cy="494.8" r="4.3"/>
<circle cx="1710.2" cy="493.8" r="4.3"/>
<circle cx="1711.2" cy="502.2" r="4.3"/>
<circle cx="1696.0" cy="504.6" r="4.3"/>
<circle cx="1701.9" cy="508.5" r="4.3"/>
<circle cx="1714.7" cy="508.5" r="4.3"/>
<circle cx="1716.6" cy="515.4" r="4.3"/>
<circle cx="1764.7" cy="497.3" r="4.3"/>
<circle cx="1759.8" cy="499.2" r="4.3"/>
<circle cx="1766.7" cy="503.6" r="4.3"/>
<circle cx="1752.9" cy="511.0" r="4.3"/>
<circle cx="1760.8" cy="510.5" r="4.3"/>
<circle cx="1767.7" cy="511.5" r="4.3"/>
<circle cx="1775.0" cy="513.9" r="4.3"/>
<circle cx="1772.6" cy="523.3" r="4.3"/>
<circle cx="1784.9" cy="498.7" r="4.3"/>
<circle cx="1794.2" cy="493.8" r="4.3"/>
<circle cx="1798.1" cy="497.7" r="4.3"/>
<circle cx="1784.4" cy="506.6" r="4.3"/>
<circle cx="1796.1" cy="506.6" r="4.3"/>
<circle cx="1842.1" cy="497.7" r="4.3"/>
<circle cx="1841.8" cy="510.0" r="4.3"/>
<circle cx="1837.4" cy="515.4" r="4.3"/>
<circle cx="1833.5" cy="522.3" r="4.3"/>
<circle cx="1854.4" cy="493.3" r="4.3"/>
<circle cx="1851.1" cy="503.1" r="4.3"/>
<circle cx="1854.1" cy="508.5" r="4.3"/>
<circle cx="1852.1" cy="515.4" r="4.3"/>
<circle cx="1895.3" cy="467.3" r="4.3"/>
<circle cx="1896.0" cy="481.1" r="4.3"/>
<circle cx="1894.3" cy="498.7" r="4.3"/>
<circle cx="1888.4" cy="505.6" r="4.3"/>
<circle cx="1881.6" cy="511.0" r="4.3"/>
<circle cx="1897.5" cy="464.9" r="4.3"/>
<circle cx="1897.5" cy="470.3" r="4.3"/>
<circle cx="1897.8" cy="480.1" r="4.3"/>
<circle cx="1897.8" cy="485.0" r="4.3"/>
<circle cx="1900.9" cy="489.4" r="4.3"/>
<circle cx="1897.5" cy="494.8" r="4.3"/>
<circle cx="1894.1" cy="499.2" r="4.3"/>
<circle cx="1888.2" cy="505.6" r="4.3"/>
<circle cx="1881.8" cy="511.0" r="4.3"/>
<circle cx="1902.9" cy="510.5" r="4.3"/>
<circle cx="1854.3" cy="493.3" r="4.3"/>
<circle cx="1850.9" cy="502.7" r="4.3"/>
<circle cx="1844.0" cy="497.7" r="4.3"/>
<circle cx="1844.0" cy="511.5" r="4.3"/>
<circle cx="1854.8" cy="507.6" r="4.3"/>
<circle cx="1851.9" cy="515.4" r="4.3"/>
<circle cx="1937.1" cy="492.6" r="4.3"/>
<circle cx="1932.4" cy="502.7" r="4.3"/>
<circle cx="1943.9" cy="501.7" r="4.3"/>
<circle cx="1943.9" cy="505.6" r="4.3"/>
<circle cx="1927.5" cy="506.6" r="4.3"/>
<circle cx="1935.3" cy="508.5" r="4.3"/>
<circle cx="1964.6" cy="479.6" r="4.3"/>
<circle cx="1966.7" cy="484.0" r="4.3"/>
<circle cx="1968.2" cy="496.8" r="4.3"/>
<circle cx="1964.8" cy="498.7" r="4.3"/>
<circle cx="1966.7" cy="504.6" r="4.3"/>
<circle cx="1973.6" cy="509.5" r="4.3"/>
<circle cx="1964.8" cy="512.5" r="4.3"/>
<circle cx="2000.8" cy="478.1" r="4.3"/>
<circle cx="2000.8" cy="483.0" r="4.3"/>
<circle cx="1993.9" cy="496.8" r="4.3"/>
<circle cx="2000.8" cy="507.6" r="4.3"/>
<circle cx="2000.1" cy="517.4" r="4.3"/>
<circle cx="1994.2" cy="520.3" r="4.3"/>
<circle cx="2015.0" cy="472.7" r="4.3"/>
<circle cx="2015.0" cy="476.1" r="4.3"/>
<circle cx="2010.9" cy="489.9" r="4.3"/>
<circle cx="2017.8" cy="492.8" r="4.3"/>
<circle cx="2017.8" cy="500.2" r="4.3"/>
<circle cx="2013.9" cy="502.7" r="4.3"/>
<circle cx="2011.9" cy="508.5" r="4.3"/>
<circle cx="2038.9" cy="496.3" r="4.3"/>
<circle cx="2035.5" cy="512.5" r="4.3"/>
<circle cx="2026.6" cy="516.4" r="4.3"/>
<circle cx="2018.8" cy="516.4" r="4.3"/>
<circle cx="1305.4" cy="496.2" r="4.3"/>
<circle cx="1305.9" cy="499.6" r="4.3"/>
<circle cx="1305.6" cy="503.0" r="4.3"/>
<circle cx="1304.6" cy="506.4" r="4.3"/>
<circle cx="1304.5" cy="509.8" r="4.3"/>
<circle cx="1304.2" cy="513.2" r="4.3"/>
<circle cx="1303.8" cy="516.6" r="4.3"/>
<circle cx="1306.2" cy="520.0" r="4.3"/>
<circle cx="1305.6" cy="502.1" r="4.3"/>
<circle cx="1305.0" cy="505.5" r="4.3"/>
<circle cx="1304.7" cy="508.9" r="4.3"/>
<circle cx="1305.7" cy="512.3" r="4.3"/>
<circle cx="1306.4" cy="515.7" r="4.3"/>
<circle cx="1306.7" cy="519.1" r="4.3"/>
<circle cx="1313.4" cy="498.2" r="4.3"/>
<circle cx="1314.1" cy="501.6" r="4.3"/>
<circle cx="1314.4" cy="505.0" r="4.3"/>
<circle cx="1314.4" cy="508.4" r="4.3"/>
<circle cx="1313.1" cy="511.8" r="4.3"/>
<circle cx="1312.7" cy="515.2" r="4.3"/>
<circle cx="1314.7" cy="518.6" r="4.3"/>
<circle cx="1346.4" cy="496.7" r="4.3"/>
<circle cx="1346.4" cy="500.1" r="4.3"/>
<circle cx="1346.7" cy="503.5" r="4.3"/>
<circle cx="1346.2" cy="506.9" r="4.3"/>
<circle cx="1347.6" cy="510.3" r="4.3"/>
<circle cx="1345.7" cy="513.7" r="4.3"/>
<circle cx="1345.1" cy="517.1" r="4.3"/>
<circle cx="1346.8" cy="520.5" r="4.3"/>
<circle cx="1329.5" cy="498.2" r="4.3"/>
<circle cx="1329.8" cy="501.6" r="4.3"/>
<circle cx="1329.8" cy="505.0" r="4.3"/>
<circle cx="1330.5" cy="508.4" r="4.3"/>
<circle cx="1330.8" cy="511.8" r="4.3"/>
<circle cx="1329.4" cy="515.2" r="4.3"/>
<circle cx="1329.4" cy="518.6" r="4.3"/>
<circle cx="1329.1" cy="504.1" r="4.3"/>
<circle cx="1329.1" cy="507.5" r="4.3"/>
<circle cx="1329.6" cy="510.9" r="4.3"/>
<circle cx="1328.2" cy="514.3" r="4.3"/>
<circle cx="1330.0" cy="517.7" r="4.3"/>
<circle cx="1328.3" cy="521.1" r="4.3"/>
<circle cx="1320.5" cy="507.0" r="4.3"/>
<circle cx="1321.2" cy="510.4" r="4.3"/>
<circle cx="1319.7" cy="513.8" r="4.3"/>
<circle cx="1319.3" cy="517.2" r="4.3"/>
<circle cx="1320.4" cy="520.6" r="4.3"/>
<circle cx="1339.0" cy="507.0" r="4.3"/>
<circle cx="1339.5" cy="510.4" r="4.3"/>
<circle cx="1338.2" cy="513.8" r="4.3"/>
<circle cx="1340.2" cy="517.2" r="4.3"/>
<circle cx="1340.3" cy="520.6" r="4.3"/>
<circle cx="1351.2" cy="504.1" r="4.3"/>
<circle cx="1350.9" cy="507.5" r="4.3"/>
<circle cx="1350.5" cy="510.9" r="4.3"/>
<circle cx="1351.4" cy="514.3" r="4.3"/>
<circle cx="1351.0" cy="517.7" r="4.3"/>
<circle cx="1350.7" cy="521.1" r="4.3"/>
<circle cx="1350.9" cy="510.0" r="4.3"/>
<circle cx="1350.9" cy="513.4" r="4.3"/>
<circle cx="1351.3" cy="516.8" r="4.3"/>
<circle cx="1351.9" cy="520.2" r="4.3"/>
<circle cx="1343.4" cy="511.9" r="4.3"/>
<circle cx="1342.7" cy="515.3" r="4.3"/>
<circle cx="1342.7" cy="518.7" r="4.3"/>
<circle cx="1430.5" cy="492.8" r="4.3"/>
<circle cx="1430.6" cy="496.2" r="4.3"/>
<circle cx="1430.2" cy="499.6" r="4.3"/>
<circle cx="1429.7" cy="503.0" r="4.3"/>
<circle cx="1429.2" cy="506.4" r="4.3"/>
<circle cx="1429.9" cy="509.8" r="4.3"/>
<circle cx="1430.4" cy="513.2" r="4.3"/>
<circle cx="1432.0" cy="516.6" r="4.3"/>
<circle cx="1431.8" cy="520.0" r="4.3"/>
<circle cx="1431.7" cy="499.2" r="4.3"/>
<circle cx="1432.2" cy="502.6" r="4.3"/>
<circle cx="1432.5" cy="506.0" r="4.3"/>
<circle cx="1431.8" cy="509.4" r="4.3"/>
<circle cx="1432.5" cy="512.8" r="4.3"/>
<circle cx="1430.1" cy="516.2" r="4.3"/>
<circle cx="1432.1" cy="519.6" r="4.3"/>
<circle cx="1423.7" cy="508.0" r="4.3"/>
<circle cx="1423.4" cy="511.4" r="4.3"/>
<circle cx="1423.8" cy="514.8" r="4.3"/>
<circle cx="1424.9" cy="518.2" r="4.3"/>
<circle cx="1423.6" cy="521.6" r="4.3"/>
<circle cx="1433.6" cy="511.9" r="4.3"/>
<circle cx="1433.2" cy="515.3" r="4.3"/>
<circle cx="1433.1" cy="518.7" r="4.3"/>
<circle cx="1464.2" cy="493.3" r="4.3"/>
<circle cx="1463.2" cy="496.7" r="4.3"/>
<circle cx="1463.2" cy="500.1" r="4.3"/>
<circle cx="1464.4" cy="503.5" r="4.3"/>
<circle cx="1463.7" cy="506.9" r="4.3"/>
<circle cx="1462.6" cy="510.3" r="4.3"/>
<circle cx="1464.4" cy="513.7" r="4.3"/>
<circle cx="1463.5" cy="517.1" r="4.3"/>
<circle cx="1464.2" cy="520.5" r="4.3"/>
<circle cx="1469.7" cy="501.1" r="4.3"/>
<circle cx="1469.8" cy="504.5" r="4.3"/>
<circle cx="1469.9" cy="507.9" r="4.3"/>
<circle cx="1469.5" cy="511.3" r="4.3"/>
<circle cx="1468.6" cy="514.7" r="4.3"/>
<circle cx="1468.8" cy="518.1" r="4.3"/>
<circle cx="1471.0" cy="521.5" r="4.3"/>
<circle cx="1463.9" cy="502.1" r="4.3"/>
<circle cx="1463.4" cy="505.5" r="4.3"/>
<circle cx="1464.7" cy="508.9" r="4.3"/>
<circle cx="1463.2" cy="512.3" r="4.3"/>
<circle cx="1462.6" cy="515.7" r="4.3"/>
<circle cx="1464.0" cy="519.1" r="4.3"/>
<circle cx="1452.9" cy="502.6" r="4.3"/>
<circle cx="1453.1" cy="506.0" r="4.3"/>
<circle cx="1453.2" cy="509.4" r="4.3"/>
<circle cx="1452.3" cy="512.8" r="4.3"/>
<circle cx="1453.3" cy="516.2" r="4.3"/>
<circle cx="1451.9" cy="519.6" r="4.3"/>
<circle cx="1453.1" cy="510.0" r="4.3"/>
<circle cx="1453.2" cy="513.4" r="4.3"/>
<circle cx="1452.2" cy="516.8" r="4.3"/>
<circle cx="1452.8" cy="520.2" r="4.3"/>
<circle cx="1440.0" cy="521.8" r="4.3"/>
<circle cx="1468.8" cy="511.0" r="4.3"/>
<circle cx="1469.3" cy="514.4" r="4.3"/>
<circle cx="1468.9" cy="517.8" r="4.3"/>
<circle cx="1469.4" cy="521.2" r="4.3"/>
<circle cx="1534.2" cy="493.8" r="4.3"/>
<circle cx="1533.5" cy="497.2" r="4.3"/>
<circle cx="1535.0" cy="500.6" r="4.3"/>
<circle cx="1534.6" cy="504.0" r="4.3"/>
<circle cx="1532.7" cy="507.4" r="4.3"/>
<circle cx="1535.1" cy="510.8" r="4.3"/>
<circle cx="1533.7" cy="514.2" r="4.3"/>
<circle cx="1532.9" cy="517.6" r="4.3"/>
<circle cx="1535.5" cy="521.0" r="4.3"/>
<circle cx="1534.0" cy="500.2" r="4.3"/>
<circle cx="1534.4" cy="503.6" r="4.3"/>
<circle cx="1533.2" cy="507.0" r="4.3"/>
<circle cx="1534.8" cy="510.4" r="4.3"/>
<circle cx="1532.6" cy="513.8" r="4.3"/>
<circle cx="1533.2" cy="517.2" r="4.3"/>
<circle cx="1533.6" cy="520.6" r="4.3"/>
<circle cx="1525.1" cy="501.6" r="4.3"/>
<circle cx="1525.6" cy="505.0" r="4.3"/>
<circle cx="1524.9" cy="508.4" r="4.3"/>
<circle cx="1524.9" cy="511.8" r="4.3"/>
<circle cx="1526.1" cy="515.2" r="4.3"/>
<circle cx="1525.2" cy="518.6" r="4.3"/>
<circle cx="1546.8" cy="498.7" r="4.3"/>
<circle cx="1546.7" cy="502.1" r="4.3"/>
<circle cx="1547.3" cy="505.5" r="4.3"/>
<circle cx="1546.7" cy="508.9" r="4.3"/>
<circle cx="1547.9" cy="512.3" r="4.3"/>
<circle cx="1547.8" cy="515.7" r="4.3"/>
<circle cx="1545.5" cy="519.1" r="4.3"/>
<circle cx="1545.3" cy="502.1" r="4.3"/>
<circle cx="1544.9" cy="505.5" r="4.3"/>
<circle cx="1545.6" cy="508.9" r="4.3"/>
<circle cx="1545.6" cy="512.3" r="4.3"/>
<circle cx="1546.1" cy="515.7" r="4.3"/>
<circle cx="1543.9" cy="519.1" r="4.3"/>
<circle cx="1555.8" cy="495.3" r="4.3"/>
<circle cx="1556.2" cy="498.7" r="4.3"/>
<circle cx="1556.8" cy="502.1" r="4.3"/>
<circle cx="1556.5" cy="505.5" r="4.3"/>
<circle cx="1554.4" cy="508.9" r="4.3"/>
<circle cx="1556.2" cy="512.3" r="4.3"/>
<circle cx="1554.6" cy="515.7" r="4.3"/>
<circle cx="1556.0" cy="519.1" r="4.3"/>
<circle cx="1547.3" cy="508.0" r="4.3"/>
<circle cx="1546.5" cy="511.4" r="4.3"/>
<circle cx="1547.9" cy="514.8" r="4.3"/>
<circle cx="1547.5" cy="518.2" r="4.3"/>
<circle cx="1546.3" cy="521.6" r="4.3"/>
<circle cx="1554.7" cy="510.0" r="4.3"/>
<circle cx="1554.8" cy="513.4" r="4.3"/>
<circle cx="1555.6" cy="516.8" r="4.3"/>
<circle cx="1555.1" cy="520.2" r="4.3"/>
<circle cx="1548.7" cy="514.9" r="4.3"/>
<circle cx="1548.3" cy="518.3" r="4.3"/>
<circle cx="1548.2" cy="521.7" r="4.3"/>
<circle cx="1533.5" cy="511.0" r="4.3"/>
<circle cx="1532.9" cy="514.4" r="4.3"/>
<circle cx="1533.4" cy="517.8" r="4.3"/>
<circle cx="1532.7" cy="521.2" r="4.3"/>
<circle cx="1564.9" cy="511.9" r="4.3"/>
<circle cx="1564.6" cy="515.3" r="4.3"/>
<circle cx="1564.0" cy="518.7" r="4.3"/>
<circle cx="1560.1" cy="516.9" r="4.3"/>
<circle cx="1559.9" cy="520.3" r="4.3"/>
<circle cx="1626.7" cy="496.2" r="4.3"/>
<circle cx="1627.0" cy="499.6" r="4.3"/>
<circle cx="1627.5" cy="503.0" r="4.3"/>
<circle cx="1625.2" cy="506.4" r="4.3"/>
<circle cx="1626.1" cy="509.8" r="4.3"/>
<circle cx="1625.5" cy="513.2" r="4.3"/>
<circle cx="1626.6" cy="516.6" r="4.3"/>
<circle cx="1627.8" cy="520.0" r="4.3"/>
<circle cx="1634.6" cy="496.2" r="4.3"/>
<circle cx="1633.8" cy="499.6" r="4.3"/>
<circle cx="1633.8" cy="503.0" r="4.3"/>
<circle cx="1635.3" cy="506.4" r="4.3"/>
<circle cx="1635.0" cy="509.8" r="4.3"/>
<circle cx="1634.1" cy="513.2" r="4.3"/>
<circle cx="1634.4" cy="516.6" r="4.3"/>
<circle cx="1633.3" cy="520.0" r="4.3"/>
<circle cx="1631.2" cy="502.1" r="4.3"/>
<circle cx="1630.9" cy="505.5" r="4.3"/>
<circle cx="1631.8" cy="508.9" r="4.3"/>
<circle cx="1631.3" cy="512.3" r="4.3"/>
<circle cx="1629.6" cy="515.7" r="4.3"/>
<circle cx="1630.5" cy="519.1" r="4.3"/>
<circle cx="1613.6" cy="507.5" r="4.3"/>
<circle cx="1614.4" cy="510.9" r="4.3"/>
<circle cx="1614.0" cy="514.3" r="4.3"/>
<circle cx="1612.5" cy="517.7" r="4.3"/>
<circle cx="1612.8" cy="521.1" r="4.3"/>
<circle cx="1639.7" cy="506.1" r="4.3"/>
<circle cx="1639.8" cy="509.5" r="4.3"/>
<circle cx="1640.0" cy="512.9" r="4.3"/>
<circle cx="1639.5" cy="516.3" r="4.3"/>
<circle cx="1639.4" cy="519.7" r="4.3"/>
<circle cx="1621.3" cy="509.0" r="4.3"/>
<circle cx="1621.8" cy="512.4" r="4.3"/>
<circle cx="1621.3" cy="515.8" r="4.3"/>
<circle cx="1620.3" cy="519.2" r="4.3"/>
<circle cx="1636.4" cy="510.0" r="4.3"/>
<circle cx="1637.1" cy="513.4" r="4.3"/>
<circle cx="1635.4" cy="516.8" r="4.3"/>
<circle cx="1635.4" cy="520.2" r="4.3"/>
<circle cx="1631.1" cy="512.9" r="4.3"/>
<circle cx="1630.7" cy="516.3" r="4.3"/>
<circle cx="1630.5" cy="519.7" r="4.3"/>
<circle cx="1651.1" cy="517.8" r="4.3"/>
<circle cx="1650.8" cy="521.2" r="4.3"/>
<circle cx="1616.8" cy="516.9" r="4.3"/>
<circle cx="1616.8" cy="520.3" r="4.3"/>
<circle cx="1692.7" cy="496.2" r="4.3"/>
<circle cx="1693.1" cy="499.6" r="4.3"/>
<circle cx="1691.4" cy="503.0" r="4.3"/>
<circle cx="1692.5" cy="506.4" r="4.3"/>
<circle cx="1693.2" cy="509.8" r="4.3"/>
<circle cx="1693.6" cy="513.2" r="4.3"/>
<circle cx="1693.2" cy="516.6" r="4.3"/>
<circle cx="1692.8" cy="520.0" r="4.3"/>
<circle cx="1692.5" cy="504.1" r="4.3"/>
<circle cx="1692.2" cy="507.5" r="4.3"/>
<circle cx="1691.9" cy="510.9" r="4.3"/>
<circle cx="1693.2" cy="514.3" r="4.3"/>
<circle cx="1693.6" cy="517.7" r="4.3"/>
<circle cx="1693.8" cy="521.1" r="4.3"/>
<circle cx="1691.5" cy="511.9" r="4.3"/>
<circle cx="1691.1" cy="515.3" r="4.3"/>
<circle cx="1691.9" cy="518.7" r="4.3"/>
<circle cx="1696.2" cy="496.2" r="4.3"/>
<circle cx="1696.0" cy="499.6" r="4.3"/>
<circle cx="1696.3" cy="503.0" r="4.3"/>
<circle cx="1695.6" cy="506.4" r="4.3"/>
<circle cx="1696.2" cy="509.8" r="4.3"/>
<circle cx="1695.7" cy="513.2" r="4.3"/>
<circle cx="1694.6" cy="516.6" r="4.3"/>
<circle cx="1695.5" cy="520.0" r="4.3"/>
<circle cx="1702.7" cy="498.2" r="4.3"/>
<circle cx="1703.6" cy="501.6" r="4.3"/>
<circle cx="1702.8" cy="505.0" r="4.3"/>
<circle cx="1702.5" cy="508.4" r="4.3"/>
<circle cx="1702.1" cy="511.8" r="4.3"/>
<circle cx="1702.0" cy="515.2" r="4.3"/>
<circle cx="1702.4" cy="518.6" r="4.3"/>
<circle cx="1710.0" cy="497.2" r="4.3"/>
<circle cx="1709.5" cy="500.6" r="4.3"/>
<circle cx="1711.0" cy="504.0" r="4.3"/>
<circle cx="1710.1" cy="507.4" r="4.3"/>
<circle cx="1710.1" cy="510.8" r="4.3"/>
<circle cx="1710.5" cy="514.2" r="4.3"/>
<circle cx="1709.6" cy="517.6" r="4.3"/>
<circle cx="1709.2" cy="521.0" r="4.3"/>
<circle cx="1710.9" cy="505.6" r="4.3"/>
<circle cx="1710.9" cy="509.0" r="4.3"/>
<circle cx="1710.8" cy="512.4" r="4.3"/>
<circle cx="1711.9" cy="515.8" r="4.3"/>
<circle cx="1711.4" cy="519.2" r="4.3"/>
<circle cx="1696.3" cy="508.0" r="4.3"/>
<circle cx="1695.8" cy="511.4" r="4.3"/>
<circle cx="1696.9" cy="514.8" r="4.3"/>
<circle cx="1696.2" cy="518.2" r="4.3"/>
<circle cx="1694.7" cy="521.6" r="4.3"/>
<circle cx="1701.7" cy="511.9" r="4.3"/>
<circle cx="1702.0" cy="515.3" r="4.3"/>
<circle cx="1702.9" cy="518.7" r="4.3"/>
<circle cx="1714.6" cy="511.9" r="4.3"/>
<circle cx="1715.0" cy="515.3" r="4.3"/>
<circle cx="1714.5" cy="518.7" r="4.3"/>
<circle cx="1716.9" cy="518.8" r="4.3"/>
<circle cx="1764.4" cy="500.7" r="4.3"/>
<circle cx="1764.7" cy="504.1" r="4.3"/>
<circle cx="1765.6" cy="507.5" r="4.3"/>
<circle cx="1764.1" cy="510.9" r="4.3"/>
<circle cx="1764.0" cy="514.3" r="4.3"/>
<circle cx="1763.2" cy="517.7" r="4.3"/>
<circle cx="1763.7" cy="521.1" r="4.3"/>
<circle cx="1759.7" cy="502.6" r="4.3"/>
<circle cx="1760.1" cy="506.0" r="4.3"/>
<circle cx="1759.2" cy="509.4" r="4.3"/>
<circle cx="1759.5" cy="512.8" r="4.3"/>
<circle cx="1758.9" cy="516.2" r="4.3"/>
<circle cx="1760.1" cy="519.6" r="4.3"/>
<circle cx="1766.9" cy="507.0" r="4.3"/>
<circle cx="1766.9" cy="510.4" r="4.3"/>
<circle cx="1766.1" cy="513.8" r="4.3"/>
<circle cx="1767.3" cy="517.2" r="4.3"/>
<circle cx="1768.2" cy="520.6" r="4.3"/>
<circle cx="1753.0" cy="514.4" r="4.3"/>
<circle cx="1752.4" cy="517.8" r="4.3"/>
<circle cx="1753.6" cy="521.2" r="4.3"/>
<circle cx="1761.1" cy="513.9" r="4.3"/>
<circle cx="1760.6" cy="517.3" r="4.3"/>
<circle cx="1760.0" cy="520.7" r="4.3"/>
<circle cx="1767.5" cy="514.9" r="4.3"/>
<circle cx="1767.7" cy="518.3" r="4.3"/>
<circle cx="1768.5" cy="521.7" r="4.3"/>
<circle cx="1775.1" cy="517.3" r="4.3"/>
<circle cx="1775.6" cy="520.7" r="4.3"/>
<circle cx="1784.7" cy="502.1" r="4.3"/>
<circle cx="1784.6" cy="505.5" r="4.3"/>
<circle cx="1785.4" cy="508.9" r="4.3"/>
<circle cx="1785.3" cy="512.3" r="4.3"/>
<circle cx="1784.6" cy="515.7" r="4.3"/>
<circle cx="1785.4" cy="519.1" r="4.3"/>
<circle cx="1794.1" cy="497.2" r="4.3"/>
<circle cx="1793.6" cy="500.6" r="4.3"/>
<circle cx="1794.0" cy="504.0" r="4.3"/>
<circle cx="1792.9" cy="507.4" r="4.3"/>
<circle cx="1794.6" cy="510.8" r="4.3"/>
<circle cx="1793.7" cy="514.2" r="4.3"/>
<circle cx="1794.2" cy="517.6" r="4.3"/>
<circle cx="1794.5" cy="521.0" r="4.3"/>
<circle cx="1797.9" cy="501.1" r="4.3"/>
<circle cx="1798.1" cy="504.5" r="4.3"/>
<circle cx="1797.1" cy="507.9" r="4.3"/>
<circle cx="1799.3" cy="511.3" r="4.3"/>
<circle cx="1798.3" cy="514.7" r="4.3"/>
<circle cx="1799.7" cy="518.1" r="4.3"/>
<circle cx="1796.7" cy="521.5" r="4.3"/>
<circle cx="1784.4" cy="510.0" r="4.3"/>
<circle cx="1784.7" cy="513.4" r="4.3"/>
<circle cx="1784.0" cy="516.8" r="4.3"/>
<circle cx="1783.2" cy="520.2" r="4.3"/>
<circle cx="1795.9" cy="510.0" r="4.3"/>
<circle cx="1795.6" cy="513.4" r="4.3"/>
<circle cx="1796.7" cy="516.8" r="4.3"/>
<circle cx="1795.0" cy="520.2" r="4.3"/>
<circle cx="1842.3" cy="501.1" r="4.3"/>
<circle cx="1842.0" cy="504.5" r="4.3"/>
<circle cx="1842.2" cy="507.9" r="4.3"/>
<circle cx="1842.3" cy="511.3" r="4.3"/>
<circle cx="1842.3" cy="514.7" r="4.3"/>
<circle cx="1842.6" cy="518.1" r="4.3"/>
<circle cx="1842.4" cy="521.5" r="4.3"/>
<circle cx="1841.7" cy="513.4" r="4.3"/>
<circle cx="1842.1" cy="516.8" r="4.3"/>
<circle cx="1841.3" cy="520.2" r="4.3"/>
<circle cx="1837.5" cy="518.8" r="4.3"/>
<circle cx="1854.6" cy="496.7" r="4.3"/>
<circle cx="1854.8" cy="500.1" r="4.3"/>
<circle cx="1854.0" cy="503.5" r="4.3"/>
<circle cx="1855.1" cy="506.9" r="4.3"/>
<circle cx="1855.9" cy="510.3" r="4.3"/>
<circle cx="1854.2" cy="513.7" r="4.3"/>
<circle cx="1853.7" cy="517.1" r="4.3"/>
<circle cx="1854.4" cy="520.5" r="4.3"/>
<circle cx="1851.4" cy="506.5" r="4.3"/>
<circle cx="1850.6" cy="509.9" r="4.3"/>
<circle cx="1850.1" cy="513.3" r="4.3"/>
<circle cx="1851.1" cy="516.7" r="4.3"/>
<circle cx="1851.6" cy="520.1" r="4.3"/>
<circle cx="1854.3" cy="511.9" r="4.3"/>
<circle cx="1853.9" cy="515.3" r="4.3"/>
<circle cx="1855.1" cy="518.7" r="4.3"/>
<circle cx="1851.9" cy="518.8" r="4.3"/>
<circle cx="1894.5" cy="502.1" r="4.3"/>
<circle cx="1893.8" cy="505.5" r="4.3"/>
<circle cx="1893.3" cy="508.9" r="4.3"/>
<circle cx="1893.3" cy="512.3" r="4.3"/>
<circle cx="1892.9" cy="515.7" r="4.3"/>
<circle cx="1894.3" cy="519.1" r="4.3"/>
<circle cx="1888.5" cy="509.0" r="4.3"/>
<circle cx="1888.0" cy="512.4" r="4.3"/>
<circle cx="1889.4" cy="515.8" r="4.3"/>
<circle cx="1888.1" cy="519.2" r="4.3"/>
<circle cx="1881.3" cy="514.4" r="4.3"/>
<circle cx="1881.1" cy="517.8" r="4.3"/>
<circle cx="1882.1" cy="521.2" r="4.3"/>
<circle cx="1901.2" cy="492.8" r="4.3"/>
<circle cx="1900.5" cy="496.2" r="4.3"/>
<circle cx="1900.0" cy="499.6" r="4.3"/>
<circle cx="1901.7" cy="503.0" r="4.3"/>
<circle cx="1900.1" cy="506.4" r="4.3"/>
<circle cx="1902.5" cy="509.8" r="4.3"/>
<circle cx="1900.9" cy="513.2" r="4.3"/>
<circle cx="1901.4" cy="516.6" r="4.3"/>
<circle cx="1900.4" cy="520.0" r="4.3"/>
<circle cx="1897.7" cy="498.2" r="4.3"/>
<circle cx="1897.5" cy="501.6" r="4.3"/>
<circle cx="1897.1" cy="505.0" r="4.3"/>
<circle cx="1898.6" cy="508.4" r="4.3"/>
<circle cx="1896.3" cy="511.8" r="4.3"/>
<circle cx="1898.3" cy="515.2" r="4.3"/>
<circle cx="1896.1" cy="518.6" r="4.3"/>
<circle cx="1894.2" cy="502.6" r="4.3"/>
<circle cx="1893.9" cy="506.0" r="4.3"/>
<circle cx="1894.8" cy="509.4" r="4.3"/>
<circle cx="1892.8" cy="512.8" r="4.3"/>
<circle cx="1894.3" cy="516.2" r="4.3"/>
<circle cx="1893.8" cy="519.6" r="4.3"/>
<circle cx="1888.5" cy="509.0" r="4.3"/>
<circle cx="1888.8" cy="512.4" r="4.3"/>
<circle cx="1888.4" cy="515.8" r="4.3"/>
<circle cx="1887.4" cy="519.2" r="4.3"/>
<circle cx="1881.6" cy="514.4" r="4.3"/>
<circle cx="1881.5" cy="517.8" r="4.3"/>
<circle cx="1881.7" cy="521.2" r="4.3"/>
<circle cx="1902.7" cy="513.9" r="4.3"/>
<circle cx="1902.5" cy="517.3" r="4.3"/>
<circle cx="1903.5" cy="520.7" r="4.3"/>
<circle cx="1854.4" cy="496.7" r="4.3"/>
<circle cx="1854.0" cy="500.1" r="4.3"/>
<circle cx="1855.3" cy="503.5" r="4.3"/>
<circle cx="1853.5" cy="506.9" r="4.3"/>
<circle cx="1854.5" cy="510.3" r="4.3"/>
<circle cx="1853.2" cy="513.7" r="4.3"/>
<circle cx="1855.5" cy="517.1" r="4.3"/>
<circle cx="1855.5" cy="520.5" r="4.3"/>
<circle cx="1850.7" cy="506.1" r="4.3"/>
<circle cx="1851.2" cy="509.5" r="4.3"/>
<circle cx="1851.6" cy="512.9" r="4.3"/>
<circle cx="1850.3" cy="516.3" r="4.3"/>
<circle cx="1850.3" cy="519.7" r="4.3"/>
<circle cx="1844.0" cy="501.1" r="4.3"/>
<circle cx="1844.5" cy="504.5" r="4.3"/>
<circle cx="1843.3" cy="507.9" r="4.3"/>
<circle cx="1844.5" cy="511.3" r="4.3"/>
<circle cx="1844.3" cy="514.7" r="4.3"/>
<circle cx="1843.8" cy="518.1" r="4.3"/>
<circle cx="1844.3" cy="521.5" r="4.3"/>
<circle cx="1844.3" cy="514.9" r="4.3"/>
<circle cx="1843.6" cy="518.3" r="4.3"/>
<circle cx="1844.8" cy="521.7" r="4.3"/>
<circle cx="1854.7" cy="511.0" r="4.3"/>
<circle cx="1855.2" cy="514.4" r="4.3"/>
<circle cx="1855.6" cy="517.8" r="4.3"/>
<circle cx="1853.9" cy="521.2" r="4.3"/>
<circle cx="1852.1" cy="518.8" r="4.3"/>
<circle cx="1937.4" cy="496.0" r="4.3"/>
<circle cx="1936.8" cy="499.4" r="4.3"/>
<circle cx="1936.1" cy="502.8" r="4.3"/>
<circle cx="1936.0" cy="506.2" r="4.3"/>
<circle cx="1938.6" cy="509.6" r="4.3"/>
<circle cx="1935.5" cy="513.0" r="4.3"/>
<circle cx="1938.4" cy="516.4" r="4.3"/>
<circle cx="1936.0" cy="519.8" r="4.3"/>
<circle cx="1932.5" cy="506.1" r="4.3"/>
<circle cx="1931.8" cy="509.5" r="4.3"/>
<circle cx="1931.7" cy="512.9" r="4.3"/>
<circle cx="1932.9" cy="516.3" r="4.3"/>
<circle cx="1931.1" cy="519.7" r="4.3"/>
<circle cx="1943.7" cy="505.1" r="4.3"/>
<circle cx="1944.4" cy="508.5" r="4.3"/>
<circle cx="1944.3" cy="511.9" r="4.3"/>
<circle cx="1944.9" cy="515.3" r="4.3"/>
<circle cx="1945.4" cy="518.7" r="4.3"/>
<circle cx="1943.5" cy="509.0" r="4.3"/>
<circle cx="1943.5" cy="512.4" r="4.3"/>
<circle cx="1944.5" cy="515.8" r="4.3"/>
<circle cx="1944.4" cy="519.2" r="4.3"/>
<circle cx="1927.1" cy="510.0" r="4.3"/>
<circle cx="1927.5" cy="513.4" r="4.3"/>
<circle cx="1926.9" cy="516.8" r="4.3"/>
<circle cx="1927.3" cy="520.2" r="4.3"/>
<circle cx="1935.0" cy="511.9" r="4.3"/>
<circle cx="1934.6" cy="515.3" r="4.3"/>
<circle cx="1936.3" cy="518.7" r="4.3"/>
<circle cx="1968.1" cy="500.2" r="4.3"/>
<circle cx="1968.7" cy="503.6" r="4.3"/>
<circle cx="1967.4" cy="507.0" r="4.3"/>
<circle cx="1968.2" cy="510.4" r="4.3"/>
<circle cx="1967.0" cy="513.8" r="4.3"/>
<circle cx="1968.0" cy="517.2" r="4.3"/>
<circle cx="1967.2" cy="520.6" r="4.3"/>
<circle cx="1964.9" cy="502.1" r="4.3"/>
<circle cx="1964.3" cy="505.5" r="4.3"/>
<circle cx="1965.3" cy="508.9" r="4.3"/>
<circle cx="1964.8" cy="512.3" r="4.3"/>
<circle cx="1963.5" cy="515.7" r="4.3"/>
<circle cx="1964.3" cy="519.1" r="4.3"/>
<circle cx="1966.7" cy="508.0" r="4.3"/>
<circle cx="1967.3" cy="511.4" r="4.3"/>
<circle cx="1966.4" cy="514.8" r="4.3"/>
<circle cx="1965.9" cy="518.2" r="4.3"/>
<circle cx="1968.2" cy="521.6" r="4.3"/>
<circle cx="1973.9" cy="512.9" r="4.3"/>
<circle cx="1973.9" cy="516.3" r="4.3"/>
<circle cx="1973.1" cy="519.7" r="4.3"/>
<circle cx="1964.5" cy="515.9" r="4.3"/>
<circle cx="1964.4" cy="519.3" r="4.3"/>
<circle cx="1993.6" cy="500.2" r="4.3"/>
<circle cx="1993.3" cy="503.6" r="4.3"/>
<circle cx="1993.9" cy="507.0" r="4.3"/>
<circle cx="1993.7" cy="510.4" r="4.3"/>
<circle cx="1994.1" cy="513.8" r="4.3"/>
<circle cx="1993.5" cy="517.2" r="4.3"/>
<circle cx="1992.4" cy="520.6" r="4.3"/>
<circle cx="2000.9" cy="511.0" r="4.3"/>
<circle cx="2001.0" cy="514.4" r="4.3"/>
<circle cx="2000.9" cy="517.8" r="4.3"/>
<circle cx="2000.9" cy="521.2" r="4.3"/>
<circle cx="2000.2" cy="520.8" r="4.3"/>
<circle cx="2011.2" cy="493.3" r="4.3"/>
<circle cx="2011.4" cy="496.7" r="4.3"/>
<circle cx="2011.4" cy="500.1" r="4.3"/>
<circle cx="2010.6" cy="503.5" r="4.3"/>
<circle cx="2010.3" cy="506.9" r="4.3"/>
<circle cx="2010.7" cy="510.3" r="4.3"/>
<circle cx="2012.4" cy="513.7" r="4.3"/>
<circle cx="2010.6" cy="517.1" r="4.3"/>
<circle cx="2010.5" cy="520.5" r="4.3"/>
<circle cx="2017.7" cy="496.2" r="4.3"/>
<circle cx="2017.3" cy="499.6" r="4.3"/>
<circle cx="2018.8" cy="503.0" r="4.3"/>
<circle cx="2016.4" cy="506.4" r="4.3"/>
<circle cx="2018.1" cy="509.8" r="4.3"/>
<circle cx="2019.1" cy="513.2" r="4.3"/>
<circle cx="2017.0" cy="516.6" r="4.3"/>
<circle cx="2018.1" cy="520.0" r="4.3"/>
<circle cx="2017.7" cy="503.6" r="4.3"/>
<circle cx="2017.4" cy="507.0" r="4.3"/>
<circle cx="2017.2" cy="510.4" r="4.3"/>
<circle cx="2016.7" cy="513.8" r="4.3"/>
<circle cx="2018.9" cy="517.2" r="4.3"/>
<circle cx="2018.7" cy="520.6" r="4.3"/>
<circle cx="2014.1" cy="506.1" r="4.3"/>
<circle cx="2013.2" cy="509.5" r="4.3"/>
<circle cx="2014.3" cy="512.9" r="4.3"/>
<circle cx="2013.4" cy="516.3" r="4.3"/>
<circle cx="2014.3" cy="519.7" r="4.3"/>
<circle cx="2011.9" cy="511.9" r="4.3"/>
<circle cx="2011.6" cy="515.3" r="4.3"/>
<circle cx="2012.9" cy="518.7" r="4.3"/>
<circle cx="2038.5" cy="499.7" r="4.3"/>
<circle cx="2039.2" cy="503.1" r="4.3"/>
<circle cx="2039.6" cy="506.5" r="4.3"/>
<circle cx="2038.9" cy="509.9" r="4.3"/>
<circle cx="2039.2" cy="513.3" r="4.3"/>
<circle cx="2040.5" cy="516.7" r="4.3"/>
<circle cx="2038.0" cy="520.1" r="4.3"/>
<circle cx="2035.5" cy="515.9" r="4.3"/>
<circle cx="2035.8" cy="519.3" r="4.3"/>
<circle cx="2026.5" cy="519.8" r="4.3"/>
<circle cx="2018.9" cy="519.8" r="4.3"/>
</g>
<g fill="#FF0000">
<circle cx="1311.0" cy="129.9" r="4.3"/>
<circle cx="1311.1" cy="135.4" r="4.3"/>
<circle cx="1311.2" cy="155.0" r="4.3"/>
<circle cx="1311.2" cy="177.8" r="4.3"/>
<circle cx="1310.9" cy="286.3" r="4.3"/>
<circle cx="1311.2" cy="292.0" r="4.3"/>
<circle cx="1311.1" cy="341.0" r="4.3"/>
<circle cx="1310.8" cy="349.2" r="4.3"/>
<circle cx="1311.2" cy="353.9" r="4.3"/>
<circle cx="1310.8" cy="374.5" r="4.3"/>
<circle cx="1311.4" cy="379.0" r="4.3"/>
<circle cx="1311.0" cy="384.0" r="4.3"/>
<circle cx="1311.2" cy="388.5" r="4.3"/>
<circle cx="1311.1" cy="403.5" r="4.3"/>
<circle cx="1311.0" cy="408.0" r="4.3"/>
<circle cx="1310.8" cy="413.0" r="4.3"/>
<circle cx="1310.7" cy="418.0" r="4.3"/>
<circle cx="1311.4" cy="429.3" r="4.3"/>
<circle cx="1311.1" cy="440.6" r="4.3"/>
<circle cx="1311.1" cy="183.6" r="4.3"/>
<circle cx="1311.5" cy="185.5" r="4.3"/>
<circle cx="1310.8" cy="187.1" r="4.3"/>
<circle cx="1311.1" cy="189.4" r="4.3"/>
<circle cx="1311.6" cy="191.5" r="4.3"/>
<circle cx="1311.6" cy="194.0" r="4.3"/>
<circle cx="1311.1" cy="195.2" r="4.3"/>
<circle cx="1311.6" cy="197.6" r="4.3"/>
<circle cx="1310.9" cy="199.0" r="4.3"/>
<circle cx="1310.9" cy="200.5" r="4.3"/>
<circle cx="1311.7" cy="202.2" r="4.3"/>
<circle cx="1311.3" cy="204.2" r="4.3"/>
<circle cx="1311.3" cy="205.5" r="4.3"/>
<circle cx="1311.7" cy="208.1" r="4.3"/>
<circle cx="1311.4" cy="209.9" r="4.3"/>
<circle cx="1311.8" cy="212.2" r="4.3"/>
<circle cx="1311.7" cy="213.6" r="4.3"/>
<circle cx="1311.6" cy="215.3" r="4.3"/>
<circle cx="1311.4" cy="216.9" r="4.3"/>
<circle cx="1311.5" cy="218.5" r="4.3"/>
<circle cx="1311.3" cy="219.8" r="4.3"/>
<circle cx="1311.1" cy="221.8" r="4.3"/>
<circle cx="1311.9" cy="223.2" r="4.3"/>
<circle cx="1311.5" cy="224.8" r="4.3"/>
<circle cx="1312.1" cy="226.3" r="4.3"/>
<circle cx="1311.9" cy="227.7" r="4.3"/>
<circle cx="1311.4" cy="230.1" r="4.3"/>
<circle cx="1312.1" cy="231.9" r="4.3"/>
<circle cx="1311.7" cy="233.9" r="4.3"/>
<circle cx="1311.8" cy="235.2" r="4.3"/>
<circle cx="1312.1" cy="236.9" r="4.3"/>
<circle cx="1311.8" cy="238.5" r="4.3"/>
<circle cx="1312.2" cy="240.6" r="4.3"/>
<circle cx="1311.8" cy="242.3" r="4.3"/>
<circle cx="1312.4" cy="244.3" r="4.3"/>
<circle cx="1312.5" cy="245.8" r="4.3"/>
<circle cx="1311.9" cy="248.0" r="4.3"/>
<circle cx="1310.8" cy="450.2" r="4.3"/>
<circle cx="1311.3" cy="451.8" r="4.3"/>
<circle cx="1311.0" cy="453.9" r="4.3"/>
<circle cx="1311.5" cy="456.1" r="4.3"/>
<circle cx="1310.4" cy="458.8" r="4.3"/>
<circle cx="1311.0" cy="461.1" r="4.3"/>
<circle cx="1311.4" cy="463.3" r="4.3"/>
<circle cx="1311.0" cy="465.5" r="4.3"/>
<circle cx="1310.9" cy="468.3" r="4.3"/>
<circle cx="1311.0" cy="470.5" r="4.3"/>
<circle cx="1311.2" cy="473.3" r="4.3"/>
<circle cx="1310.9" cy="475.9" r="4.3"/>
<circle cx="1311.2" cy="477.4" r="4.3"/>
<circle cx="1311.3" cy="479.8" r="4.3"/>
<circle cx="1310.4" cy="490.8" r="4.3"/>
<circle cx="1310.3" cy="491.9" r="4.3"/>
<circle cx="1310.4" cy="493.6" r="4.3"/>
<circle cx="1311.6" cy="494.6" r="4.3"/>
<circle cx="1310.3" cy="496.1" r="4.3"/>
<circle cx="1311.5" cy="497.7" r="4.3"/>
<circle cx="1310.3" cy="499.1" r="4.3"/>
<circle cx="1311.0" cy="500.6" r="4.3"/>
<circle cx="1312.1" cy="502.1" r="4.3"/>
<circle cx="1311.8" cy="503.8" r="4.3"/>
<circle cx="1310.8" cy="504.9" r="4.3"/>
<circle cx="1310.2" cy="506.3" r="4.3"/>
<circle cx="1310.7" cy="508.2" r="4.3"/>
<circle cx="1310.8" cy="509.4" r="4.3"/>
<circle cx="1311.8" cy="510.5" r="4.3"/>
<circle cx="1311.2" cy="512.0" r="4.3"/>
<circle cx="1310.3" cy="513.3" r="4.3"/>
<circle cx="1311.9" cy="514.5" r="4.3"/>
<circle cx="1311.9" cy="516.2" r="4.3"/>
<circle cx="1310.6" cy="517.4" r="4.3"/>
<circle cx="1311.2" cy="518.3" r="4.3"/>
<circle cx="1311.1" cy="519.6" r="4.3"/>
<circle cx="1311.3" cy="521.0" r="4.3"/>
<circle cx="1311.8" cy="522.2" r="4.3"/>
<circle cx="1312.0" cy="523.3" r="4.3"/>
<circle cx="1310.3" cy="524.8" r="4.3"/>
<circle cx="1311.3" cy="526.0" r="4.3"/>
<circle cx="1311.3" cy="527.3" r="4.3"/>
<circle cx="1310.7" cy="528.5" r="4.3"/>
<circle cx="1310.8" cy="530.2" r="4.3"/>
<circle cx="1311.8" cy="531.8" r="4.3"/>
<circle cx="1311.1" cy="533.3" r="4.3"/>
<circle cx="1311.1" cy="535.2" r="4.3"/>
<circle cx="1310.3" cy="537.0" r="4.3"/>
<circle cx="1311.5" cy="538.3" r="4.3"/>
<circle cx="1312.0" cy="539.2" r="4.3"/>
<circle cx="1311.4" cy="540.2" r="4.3"/>
<circle cx="1312.1" cy="541.3" r="4.3"/>
<circle cx="1311.9" cy="542.7" r="4.3"/>
<circle cx="1311.6" cy="544.1" r="4.3"/>
<circle cx="1310.8" cy="545.7" r="4.3"/>
<circle cx="1312.0" cy="546.8" r="4.3"/>
<circle cx="1312.1" cy="547.9" r="4.3"/>
<circle cx="1310.4" cy="549.0" r="4.3"/>
<circle cx="1311.9" cy="550.0" r="4.3"/>
<circle cx="1311.1" cy="551.8" r="4.3"/>
<circle cx="1310.7" cy="553.4" r="4.3"/>
<circle cx="1311.7" cy="555.2" r="4.3"/>
<circle cx="1310.3" cy="556.2" r="4.3"/>
<circle cx="1310.3" cy="557.8" r="4.3"/>
<circle cx="1310.8" cy="559.6" r="4.3"/>
<circle cx="1311.5" cy="560.7" r="4.3"/>
<circle cx="1311.4" cy="561.9" r="4.3"/>
<circle cx="1312.2" cy="563.0" r="4.3"/>
<circle cx="1312.1" cy="564.2" r="4.3"/>
<circle cx="1312.0" cy="565.3" r="4.3"/>
<circle cx="1311.1" cy="567.1" r="4.3"/>
<circle cx="1311.0" cy="568.1" r="4.3"/>
<circle cx="1310.7" cy="569.6" r="4.3"/>
<circle cx="1310.4" cy="571.1" r="4.3"/>
<circle cx="1311.8" cy="572.4" r="4.3"/>
<circle cx="1311.7" cy="573.8" r="4.3"/>
<circle cx="1312.1" cy="574.8" r="4.3"/>
<circle cx="1312.3" cy="575.8" r="4.3"/>
<circle cx="1312.4" cy="577.7" r="4.3"/>
<circle cx="1310.8" cy="579.1" r="4.3"/>
<circle cx="1311.9" cy="580.4" r="4.3"/>
<circle cx="1312.4" cy="581.8" r="4.3"/>
<circle cx="1311.3" cy="582.8" r="4.3"/>
<circle cx="1311.6" cy="584.5" r="4.3"/>
<circle cx="1310.4" cy="586.0" r="4.3"/>
<circle cx="1310.8" cy="587.0" r="4.3"/>
<circle cx="1312.2" cy="588.8" r="4.3"/>
<circle cx="1312.4" cy="589.9" r="4.3"/>
<circle cx="1311.6" cy="590.9" r="4.3"/>
<circle cx="1311.0" cy="592.7" r="4.3"/>
<circle cx="1311.8" cy="594.6" r="4.3"/>
<circle cx="1311.0" cy="595.5" r="4.3"/>
<circle cx="1310.8" cy="596.9" r="4.3"/>
<circle cx="1310.6" cy="598.5" r="4.3"/>
<circle cx="1310.9" cy="600.2" r="4.3"/>
<circle cx="1311.5" cy="601.2" r="4.3"/>
<circle cx="1311.5" cy="602.2" r="4.3"/>
<circle cx="1311.6" cy="603.8" r="4.3"/>
<circle cx="1310.2" cy="605.2" r="4.3"/>
<circle cx="1310.4" cy="606.6" r="4.3"/>
<circle cx="1310.5" cy="608.2" r="4.3"/>
<circle cx="1311.0" cy="609.6" r="4.3"/>
<circle cx="1311.8" cy="610.9" r="4.3"/>
<circle cx="1310.6" cy="612.0" r="4.3"/>
<circle cx="1311.0" cy="613.8" r="4.3"/>
<circle cx="1312.4" cy="615.6" r="4.3"/>
<circle cx="1310.5" cy="616.9" r="4.3"/>
<circle cx="1312.4" cy="617.9" r="4.3"/>
<circle cx="1311.4" cy="619.0" r="4.3"/>
<circle cx="1310.5" cy="620.4" r="4.3"/>
<circle cx="1310.6" cy="621.8" r="4.3"/>
<circle cx="1311.5" cy="623.2" r="4.3"/>
<circle cx="1310.7" cy="624.5" r="4.3"/>
<circle cx="1310.7" cy="625.8" r="4.3"/>
<circle cx="1310.8" cy="626.8" r="4.3"/>
<circle cx="1311.5" cy="628.6" r="4.3"/>
</g>
</g>
</g>
<g id="panel-c">
<text transform="translate(3.20 766.00)" font-size="55.0" text-anchor="start" fill="#000">c</text>
<rect x="163.00" y="784.00" width="481.00" height="129.80" fill="#FAFAFA"/>
<rect x="163.00" y="913.80" width="481.00" height="129.90" fill="#F2F2F2"/>
<rect x="163.00" y="1043.70" width="481.00" height="129.10" fill="#FAFAFA"/>
<text transform="translate(53.30 980.10) rotate(-90) scale(1 1.04)" font-size="29.0" text-anchor="middle" fill="#000">rs55794721</text>
<line x1="151.10" y1="849.10" x2="163.00" y2="849.10" stroke="#333333" stroke-width="4.8"/>
<text transform="translate(141.60 859.90)" font-size="29.33" text-anchor="end" fill="#000">[G/G]</text>
<line x1="151.10" y1="978.50" x2="163.00" y2="978.50" stroke="#333333" stroke-width="4.8"/>
<text transform="translate(141.60 989.30)" font-size="29.33" text-anchor="end" fill="#000">[C/G]</text>
<line x1="151.10" y1="1107.90" x2="163.00" y2="1107.90" stroke="#333333" stroke-width="4.8"/>
<text transform="translate(141.60 1118.70)" font-size="29.33" text-anchor="end" fill="#000">[C/C]</text>
<line x1="247.1" y1="784.0" x2="247.1" y2="1186" stroke="#788F9E" stroke-width="4.6" stroke-dasharray="4.6 13.46"/>
<line x1="247.10" y1="1185.30" x2="247.10" y2="1197.80" stroke="#333333" stroke-width="4.8"/>
<text transform="translate(247.10 1227.60) scale(1 1.015)" font-size="29.33" text-anchor="middle" fill="#000">1</text>
<line x1="309.55" y1="1185.30" x2="309.55" y2="1197.80" stroke="#333333" stroke-width="4.8"/>
<text transform="translate(309.55 1227.60) scale(1 1.015)" font-size="29.33" text-anchor="middle" fill="#000">4</text>
<line x1="372.00" y1="1185.30" x2="372.00" y2="1197.80" stroke="#333333" stroke-width="4.8"/>
<text transform="translate(372.00 1227.60) scale(1 1.015)" font-size="29.33" text-anchor="middle" fill="#000">16</text>
<line x1="434.45" y1="1185.30" x2="434.45" y2="1197.80" stroke="#333333" stroke-width="4.8"/>
<text transform="translate(434.45 1227.60) scale(1 1.015)" font-size="29.33" text-anchor="middle" fill="#000">64</text>
<text transform="translate(403.50 1272.10)" font-size="29.7" text-anchor="middle" fill="#000">Odds Ratio</text>
<line x1="360.52" y1="849.10" x2="399.86" y2="849.10" stroke="#0F3D69" stroke-width="4.8"/>
<path d="M364.30 849.1 L379.50 833.9 L394.70 849.1 L379.50 864.3000000000001 Z" fill="#0F3D69"/>
<line x1="220.41" y1="978.50" x2="271.53" y2="978.50" stroke="#037DBE" stroke-width="4.8"/>
<path d="M230.81 978.5 L246.01 963.3 L261.21 978.5 L246.01 993.7 Z" fill="#037DBE"/>
<path d="M231.90 1107.9 L247.10 1092.7 L262.30 1107.9 L247.10 1123.1000000000001 Z" fill="#788F9E"/>
<text transform="translate(529.20 838.90) scale(1 1.03)" font-size="25.35" text-anchor="middle" fill="#000">18.9[12.4−29.7]</text>
<text transform="translate(529.00 878.20) scale(1 1.03)" font-size="25.35" text-anchor="middle" fill="#000">(28/12,764)</text>
<text transform="translate(529.20 968.30) scale(1 1.03)" font-size="25.35" text-anchor="middle" fill="#000">0.976[0.553−1.72]</text>
<text transform="translate(529.00 1007.60) scale(1 1.03)" font-size="25.35" text-anchor="middle" fill="#000">(27/12,608)</text>
<text transform="translate(529.20 1097.70)" font-size="25.35" text-anchor="middle" fill="#000">Reference</text>
<text transform="translate(529.00 1137.00) scale(1 1.03)" font-size="25.35" text-anchor="middle" fill="#000">(145/3,587)</text>
</g>
<g id="panel-d">
<text transform="translate(689.80 766.00)" font-size="55.0" text-anchor="start" fill="#000">d</text>
<rect x="851.20" y="784.00" width="321.60" height="129.80" fill="#FAFAFA"/>
<rect x="851.20" y="913.80" width="321.60" height="129.90" fill="#F2F2F2"/>
<rect x="851.20" y="1043.70" width="321.60" height="129.10" fill="#FAFAFA"/>
<text transform="translate(741.80 980.10) rotate(-90) scale(1 1.04)" font-size="29.0" text-anchor="middle" fill="#000">rs55794721</text>
<line x1="839.90" y1="849.10" x2="851.60" y2="849.10" stroke="#333333" stroke-width="4.8"/>
<text transform="translate(830.60 844.00) scale(1 1.015)" font-size="29.33" text-anchor="end" fill="#000">[G/G]</text>
<text transform="translate(831.40 875.50) scale(1 1.015)" font-size="29.33" text-anchor="end" fill="#000">(80)</text>
<line x1="839.90" y1="978.50" x2="851.60" y2="978.50" stroke="#333333" stroke-width="4.8"/>
<text transform="translate(830.60 973.40) scale(1 1.015)" font-size="29.33" text-anchor="end" fill="#000">[C/G]</text>
<text transform="translate(831.40 1004.90) scale(1 1.015)" font-size="29.33" text-anchor="end" fill="#000">(272)</text>
<line x1="839.90" y1="1107.90" x2="851.60" y2="1107.90" stroke="#333333" stroke-width="4.8"/>
<text transform="translate(830.60 1102.80) scale(1 1.015)" font-size="29.33" text-anchor="end" fill="#000">[C/C]</text>
<text transform="translate(831.40 1134.30) scale(1 1.015)" font-size="29.33" text-anchor="end" fill="#000">(317)</text>
<line x1="866.50" y1="1185.30" x2="866.50" y2="1197.50" stroke="#333333" stroke-width="4.8"/>
<text transform="translate(866.50 1227.40) scale(1 1.015)" font-size="29.33" text-anchor="middle" fill="#000">0</text>
<line x1="948.50" y1="1185.30" x2="948.50" y2="1197.50" stroke="#333333" stroke-width="4.8"/>
<text transform="translate(948.50 1227.40) scale(1 1.015)" font-size="29.33" text-anchor="middle" fill="#000">10</text>
<line x1="1024.70" y1="1185.30" x2="1024.70" y2="1197.50" stroke="#333333" stroke-width="4.8"/>
<text transform="translate(1024.70 1227.40) scale(1 1.015)" font-size="29.33" text-anchor="middle" fill="#000">100</text>
<line x1="1103.20" y1="1185.30" x2="1103.20" y2="1197.50" stroke="#333333" stroke-width="4.8"/>
<text transform="translate(1103.20 1227.40) scale(1 1.015)" font-size="29.33" text-anchor="middle" fill="#000">1000</text>
<text transform="translate(1012.00 1272.10)" font-size="29.7" text-anchor="middle" fill="#000">RHD read count</text>
<path d="M866.5 838.1 C869.0 837.8 876.3 837.7 881.4 836.5 C886.5 835.3 891.9 833.0 897.1 831.0 C902.4 829.1 907.9 826.2 912.8 824.7 C917.8 823.3 921.7 822.5 927.0 822.4 C932.2 822.3 938.8 823.3 944.3 824.0 C949.7 824.6 954.7 825.3 960.0 826.3 C965.2 827.4 970.4 828.4 975.7 830.2 C980.9 832.1 986.1 835.0 991.4 837.3 C996.6 839.7 1001.8 842.7 1007.1 844.4 C1012.3 846.1 1017.6 847.0 1022.8 847.7 C1028.0 848.4 1034.3 848.3 1038.5 848.5 C1042.7 848.6 1046.6 848.7 1048.2 848.8 L1048.2 849.4 C1046.6 849.5 1042.7 849.6 1038.5 849.7 C1034.3 849.9 1028.0 849.8 1022.8 850.5 C1017.6 851.2 1012.3 852.1 1007.1 853.8 C1001.8 855.5 996.6 858.5 991.4 860.9 C986.1 863.2 980.9 866.1 975.7 868.0 C970.4 869.8 965.2 870.8 960.0 871.9 C954.7 872.9 949.7 873.6 944.3 874.2 C938.8 874.9 932.2 875.9 927.0 875.8 C921.7 875.7 917.8 874.9 912.8 873.5 C907.9 872.0 902.4 869.1 897.1 867.2 C891.9 865.2 886.5 862.9 881.4 861.7 C876.3 860.5 869.0 860.4 866.5 860.1 Z" fill="#0F3D69" stroke="#333333" stroke-width="4.7" stroke-linejoin="round"/>
<line x1="866.00" y1="849.10" x2="1017.30" y2="849.10" stroke="#000" stroke-width="4.7"/>
<rect x="911.75" y="842.80" width="53.40" height="12.60" fill="#BFBFBF" stroke="#000" stroke-width="4.7"/>
<line x1="933.30" y1="841.45" x2="933.30" y2="856.75" stroke="#000" stroke-width="9.0"/>
<path d="M866.2 977.9 C871.3 977.9 888.0 978.0 897.1 977.9 C906.2 977.7 912.8 976.8 920.7 976.8 C928.5 976.8 936.1 977.7 944.3 977.9 C952.4 978.0 962.8 978.7 969.4 977.9 C975.9 977.1 979.9 974.3 983.5 973.0 C987.2 971.7 988.8 970.7 991.4 970.2 C994.0 969.6 996.6 970.8 999.2 969.9 C1001.8 968.9 1004.5 967.5 1007.1 964.4 C1009.7 961.2 1012.3 954.8 1014.9 951.0 C1017.6 947.2 1020.2 944.6 1022.8 941.6 C1025.4 938.6 1027.8 936.0 1030.6 932.9 C1033.5 929.9 1037.2 923.3 1040.1 923.2 C1043.0 923.1 1045.6 928.8 1047.9 932.2 C1050.3 935.5 1051.9 939.5 1054.2 943.1 C1056.6 946.8 1059.4 951.4 1062.1 954.1 C1064.7 956.9 1067.3 957.8 1069.9 959.6 C1072.5 961.5 1075.2 963.2 1077.8 965.1 C1080.4 967.1 1083.0 969.7 1085.6 971.4 C1088.2 973.1 1090.9 974.5 1093.5 975.4 C1096.1 976.2 1097.4 976.4 1101.3 976.8 C1105.3 977.2 1111.3 977.5 1117.0 977.7 C1122.8 977.9 1132.8 978.1 1135.9 978.2 L1135.9 978.8 C1132.8 978.9 1122.8 979.1 1117.0 979.3 C1111.3 979.5 1105.3 979.8 1101.3 980.2 C1097.4 980.6 1096.1 980.8 1093.5 981.6 C1090.9 982.5 1088.2 983.9 1085.6 985.6 C1083.0 987.3 1080.4 989.9 1077.8 991.9 C1075.2 993.8 1072.5 995.5 1069.9 997.4 C1067.3 999.2 1064.7 1000.1 1062.1 1002.9 C1059.4 1005.6 1056.6 1010.2 1054.2 1013.9 C1051.9 1017.5 1050.3 1021.5 1047.9 1024.8 C1045.6 1028.2 1043.0 1033.9 1040.1 1033.8 C1037.2 1033.7 1033.5 1027.1 1030.6 1024.1 C1027.8 1021.0 1025.4 1018.4 1022.8 1015.4 C1020.2 1012.4 1017.6 1009.8 1014.9 1006.0 C1012.3 1002.2 1009.7 995.8 1007.1 992.6 C1004.5 989.5 1001.8 988.1 999.2 987.1 C996.6 986.2 994.0 987.4 991.4 986.8 C988.8 986.3 987.2 985.3 983.5 984.0 C979.9 982.7 975.9 979.9 969.4 979.1 C962.8 978.3 952.4 979.0 944.3 979.1 C936.1 979.3 928.5 980.2 920.7 980.2 C912.8 980.2 906.2 979.3 897.1 979.1 C888.0 979.0 871.3 979.1 866.2 979.1 Z" fill="#037DBE" stroke="#333333" stroke-width="4.7" stroke-linejoin="round"/>
<line x1="983.80" y1="978.50" x2="1094.70" y2="978.50" stroke="#000" stroke-width="4.7"/>
<rect x="1023.55" y="972.20" width="30.70" height="12.60" fill="#BFBFBF" stroke="#000" stroke-width="4.7"/>
<line x1="1039.60" y1="970.85" x2="1039.60" y2="986.15" stroke="#000" stroke-width="9.0"/>
<path d="M866.2 1107.4 C874.0 1107.4 894.6 1107.4 912.8 1107.4 C931.1 1107.4 961.3 1107.5 975.7 1107.4 C990.1 1107.3 994.0 1107.2 999.2 1107.0 C1004.5 1106.7 1004.5 1106.8 1007.1 1105.9 C1009.7 1104.9 1012.3 1103.1 1014.9 1101.5 C1017.6 1099.8 1020.2 1097.7 1022.8 1096.0 C1025.4 1094.3 1028.0 1093.5 1030.6 1091.2 C1033.3 1089.0 1035.9 1086.8 1038.5 1082.6 C1041.1 1078.4 1043.7 1071.0 1046.4 1066.1 C1049.0 1061.3 1051.9 1056.2 1054.2 1053.5 C1056.6 1050.8 1058.4 1049.5 1060.5 1049.9 C1062.6 1050.3 1064.7 1053.1 1066.8 1055.9 C1068.9 1058.7 1070.7 1064.1 1073.1 1066.9 C1075.4 1069.6 1078.3 1069.8 1080.9 1072.4 C1083.5 1075.0 1086.2 1079.2 1088.8 1082.6 C1091.4 1086.0 1094.0 1090.1 1096.6 1092.8 C1099.2 1095.6 1101.6 1097.3 1104.5 1099.1 C1107.4 1100.9 1111.3 1102.7 1113.9 1103.8 C1116.5 1104.9 1118.4 1105.2 1120.2 1105.7 C1122.0 1106.1 1122.8 1106.3 1124.9 1106.5 C1127.0 1106.7 1129.2 1106.8 1132.8 1107.0 C1136.3 1107.1 1142.0 1107.3 1146.3 1107.4 C1150.5 1107.6 1156.2 1107.7 1158.2 1107.7 L1158.2 1108.1 C1156.2 1108.1 1150.5 1108.2 1146.3 1108.4 C1142.0 1108.5 1136.3 1108.7 1132.8 1108.8 C1129.2 1109.0 1127.0 1109.1 1124.9 1109.3 C1122.8 1109.5 1122.0 1109.7 1120.2 1110.1 C1118.4 1110.6 1116.5 1110.9 1113.9 1112.0 C1111.3 1113.1 1107.4 1114.9 1104.5 1116.7 C1101.6 1118.5 1099.2 1120.2 1096.6 1123.0 C1094.0 1125.7 1091.4 1129.8 1088.8 1133.2 C1086.2 1136.6 1083.5 1140.8 1080.9 1143.4 C1078.3 1146.0 1075.4 1146.2 1073.1 1148.9 C1070.7 1151.7 1068.9 1157.1 1066.8 1159.9 C1064.7 1162.7 1062.6 1165.5 1060.5 1165.9 C1058.4 1166.3 1056.6 1165.0 1054.2 1162.3 C1051.9 1159.6 1049.0 1154.5 1046.4 1149.7 C1043.7 1144.8 1041.1 1137.4 1038.5 1133.2 C1035.9 1129.0 1033.3 1126.8 1030.6 1124.6 C1028.0 1122.3 1025.4 1121.5 1022.8 1119.8 C1020.2 1118.1 1017.6 1116.0 1014.9 1114.3 C1012.3 1112.7 1009.7 1110.9 1007.1 1109.9 C1004.5 1109.0 1004.5 1109.1 999.2 1108.8 C994.0 1108.6 990.1 1108.5 975.7 1108.4 C961.3 1108.3 931.1 1108.4 912.8 1108.4 C894.6 1108.4 874.0 1108.4 866.2 1108.4 Z" fill="#788F9E" stroke="#333333" stroke-width="4.7" stroke-linejoin="round"/>
<line x1="1008.70" y1="1107.90" x2="1120.20" y2="1107.90" stroke="#000" stroke-width="4.7"/>
<rect x="1048.35" y="1101.60" width="29.40" height="12.60" fill="#BFBFBF" stroke="#000" stroke-width="4.7"/>
<line x1="1061.60" y1="1100.25" x2="1061.60" y2="1115.55" stroke="#000" stroke-width="9.0"/>
</g>
<g id="panel-e">
<text transform="translate(1218.80 766.00)" font-size="55.0" text-anchor="start" fill="#000">e</text>
<rect x="1405.60" y="735.70" width="18.60" height="30.20" fill="#F26C3F"/>
<text transform="translate(1450.50 761.20) scale(1 1.015)" font-size="29.7" text-anchor="start" fill="#000">AFR</text>
<rect x="1534.90" y="735.70" width="18.60" height="30.20" fill="#0F3D69"/>
<text transform="translate(1580.30 761.20) scale(1 1.015)" font-size="29.7" text-anchor="start" fill="#000">AMR</text>
<rect x="1671.10" y="735.70" width="18.60" height="30.20" fill="#788F9E"/>
<text transform="translate(1716.30 761.20) scale(1 1.015)" font-size="29.7" text-anchor="start" fill="#000">EAS</text>
<rect x="1800.80" y="735.70" width="18.60" height="30.20" fill="#037DBE"/>
<text transform="translate(1845.60 761.20) scale(1 1.015)" font-size="29.7" text-anchor="start" fill="#000">EUR</text>
<rect x="1934.40" y="735.70" width="18.60" height="30.20" fill="#6B0020"/>
<text transform="translate(1978.80 761.20) scale(1 1.015)" font-size="29.7" text-anchor="start" fill="#000">SAS</text>
<rect x="1403.00" y="816.10" width="21.60" height="369.20" fill="#037DBE"/>
<line x1="1413.80" y1="1187.40" x2="1413.80" y2="1197.50" stroke="#333333" stroke-width="4.7"/>
<text transform="translate(1424.20 1207.20) rotate(-90) scale(1 1.03)" font-size="29.33" text-anchor="end" fill="#000">16</text>
<rect x="1426.56" y="831.00" width="21.60" height="354.30" fill="#037DBE"/>
<line x1="1437.36" y1="1187.40" x2="1437.36" y2="1197.50" stroke="#333333" stroke-width="4.7"/>
<text transform="translate(1447.76 1207.20) rotate(-90) scale(1 1.03)" font-size="29.33" text-anchor="end" fill="#000">1</text>
<rect x="1450.12" y="856.20" width="21.60" height="329.10" fill="#037DBE"/>
<line x1="1460.92" y1="1187.40" x2="1460.92" y2="1197.50" stroke="#333333" stroke-width="4.7"/>
<text transform="translate(1471.32 1207.20) rotate(-90) scale(1 1.03)" font-size="29.33" text-anchor="end" fill="#000">4</text>
<rect x="1473.68" y="860.20" width="21.60" height="325.10" fill="#037DBE"/>
<line x1="1484.48" y1="1187.40" x2="1484.48" y2="1197.50" stroke="#333333" stroke-width="4.7"/>
<text transform="translate(1494.88 1207.20) rotate(-90) scale(1 1.03)" font-size="29.33" text-anchor="end" fill="#000">2</text>
<rect x="1497.24" y="874.20" width="21.60" height="311.10" fill="#037DBE"/>
<line x1="1508.04" y1="1187.40" x2="1508.04" y2="1197.50" stroke="#333333" stroke-width="4.7"/>
<text transform="translate(1518.44 1207.20) rotate(-90) scale(1 1.03)" font-size="29.33" text-anchor="end" fill="#000">15</text>
<rect x="1520.80" y="890.00" width="21.60" height="295.30" fill="#037DBE"/>
<line x1="1531.60" y1="1187.40" x2="1531.60" y2="1197.50" stroke="#333333" stroke-width="4.7"/>
<text transform="translate(1542.00 1207.20) rotate(-90) scale(1 1.03)" font-size="29.33" text-anchor="end" fill="#000">25</text>
<rect x="1544.36" y="902.10" width="21.60" height="283.20" fill="#037DBE"/>
<line x1="1555.16" y1="1187.40" x2="1555.16" y2="1197.50" stroke="#333333" stroke-width="4.7"/>
<text transform="translate(1565.56 1207.20) rotate(-90) scale(1 1.03)" font-size="29.33" text-anchor="end" fill="#000">22</text>
<rect x="1567.92" y="903.50" width="21.60" height="281.80" fill="#037DBE"/>
<line x1="1578.72" y1="1187.40" x2="1578.72" y2="1197.50" stroke="#333333" stroke-width="4.7"/>
<text transform="translate(1589.12 1207.20) rotate(-90) scale(1 1.03)" font-size="29.33" text-anchor="end" fill="#000">13</text>
<rect x="1591.48" y="903.50" width="21.60" height="281.80" fill="#037DBE"/>
<line x1="1602.28" y1="1187.40" x2="1602.28" y2="1197.50" stroke="#333333" stroke-width="4.7"/>
<text transform="translate(1612.68 1207.20) rotate(-90) scale(1 1.03)" font-size="29.33" text-anchor="end" fill="#000">3</text>
<rect x="1615.04" y="937.20" width="21.60" height="248.10" fill="#037DBE"/>
<line x1="1625.84" y1="1187.40" x2="1625.84" y2="1197.50" stroke="#333333" stroke-width="4.7"/>
<text transform="translate(1636.24 1207.20) rotate(-90) scale(1 1.03)" font-size="29.33" text-anchor="end" fill="#000">14</text>
<rect x="1638.60" y="945.30" width="21.60" height="240.00" fill="#037DBE"/>
<line x1="1649.40" y1="1187.40" x2="1649.40" y2="1197.50" stroke="#333333" stroke-width="4.7"/>
<text transform="translate(1659.80 1207.20) rotate(-90) scale(1 1.03)" font-size="29.33" text-anchor="end" fill="#000">12</text>
<rect x="1662.16" y="946.70" width="21.60" height="238.60" fill="#037DBE"/>
<line x1="1672.96" y1="1187.40" x2="1672.96" y2="1197.50" stroke="#333333" stroke-width="4.7"/>
<text transform="translate(1683.36 1207.20) rotate(-90) scale(1 1.03)" font-size="29.33" text-anchor="end" fill="#000">17</text>
<rect x="1685.72" y="985.80" width="21.60" height="199.50" fill="#037DBE"/>
<line x1="1696.52" y1="1187.40" x2="1696.52" y2="1197.50" stroke="#333333" stroke-width="4.7"/>
<text transform="translate(1706.92 1207.20) rotate(-90) scale(1 1.03)" font-size="29.33" text-anchor="end" fill="#000">8</text>
<rect x="1709.28" y="998.00" width="21.60" height="187.30" fill="#037DBE"/>
<line x1="1720.08" y1="1187.40" x2="1720.08" y2="1197.50" stroke="#333333" stroke-width="4.7"/>
<text transform="translate(1730.48 1207.20) rotate(-90) scale(1 1.03)" font-size="29.33" text-anchor="end" fill="#000">5</text>
<rect x="1732.84" y="1043.00" width="21.60" height="142.30" fill="#0F3D69"/>
<line x1="1743.64" y1="1187.40" x2="1743.64" y2="1197.50" stroke="#333333" stroke-width="4.7"/>
<text transform="translate(1754.04 1207.20) rotate(-90) scale(1 1.03)" font-size="29.33" text-anchor="end" fill="#000">6</text>
<rect x="1756.40" y="1052.40" width="21.60" height="132.90" fill="#6B0020"/>
<line x1="1767.20" y1="1187.40" x2="1767.20" y2="1197.50" stroke="#333333" stroke-width="4.7"/>
<text transform="translate(1777.60 1207.20) rotate(-90) scale(1 1.03)" font-size="29.33" text-anchor="end" fill="#000">11</text>
<rect x="1779.96" y="1056.00" width="21.60" height="129.30" fill="#0F3D69"/>
<line x1="1790.76" y1="1187.40" x2="1790.76" y2="1197.50" stroke="#333333" stroke-width="4.7"/>
<text transform="translate(1801.16 1207.20) rotate(-90) scale(1 1.03)" font-size="29.33" text-anchor="end" fill="#000">26</text>
<rect x="1803.52" y="1086.20" width="21.60" height="99.10" fill="#0F3D69"/>
<line x1="1814.32" y1="1187.40" x2="1814.32" y2="1197.50" stroke="#333333" stroke-width="4.7"/>
<text transform="translate(1824.72 1207.20) rotate(-90) scale(1 1.03)" font-size="29.33" text-anchor="end" fill="#000">9</text>
<rect x="1827.08" y="1088.50" width="21.60" height="96.80" fill="#F26C3F"/>
<line x1="1837.88" y1="1187.40" x2="1837.88" y2="1197.50" stroke="#333333" stroke-width="4.7"/>
<text transform="translate(1848.28 1207.20) rotate(-90) scale(1 1.03)" font-size="29.33" text-anchor="end" fill="#000">18</text>
<rect x="1850.64" y="1109.20" width="21.60" height="76.10" fill="#0F3D69"/>
<line x1="1861.44" y1="1187.40" x2="1861.44" y2="1197.50" stroke="#333333" stroke-width="4.7"/>
<text transform="translate(1871.84 1207.20) rotate(-90) scale(1 1.03)" font-size="29.33" text-anchor="end" fill="#000">27</text>
<rect x="1874.20" y="1116.40" width="21.60" height="68.90" fill="#0F3D69"/>
<line x1="1885.00" y1="1187.40" x2="1885.00" y2="1197.50" stroke="#333333" stroke-width="4.7"/>
<text transform="translate(1895.40 1207.20) rotate(-90) scale(1 1.03)" font-size="29.33" text-anchor="end" fill="#000">21</text>
<rect x="1897.76" y="1157.80" width="21.60" height="27.50" fill="#F26C3F"/>
<line x1="1908.56" y1="1187.40" x2="1908.56" y2="1197.50" stroke="#333333" stroke-width="4.7"/>
<text transform="translate(1918.96 1207.20) rotate(-90) scale(1 1.03)" font-size="29.33" text-anchor="end" fill="#000">7</text>
<line x1="1932.12" y1="1187.40" x2="1932.12" y2="1197.50" stroke="#333333" stroke-width="4.7"/>
<text transform="translate(1942.52 1207.20) rotate(-90) scale(1 1.03)" font-size="29.33" text-anchor="end" fill="#000">10</text>
<line x1="1955.68" y1="1187.40" x2="1955.68" y2="1197.50" stroke="#333333" stroke-width="4.7"/>
<text transform="translate(1966.08 1207.20) rotate(-90) scale(1 1.03)" font-size="29.33" text-anchor="end" fill="#000">19</text>
<line x1="1979.24" y1="1187.40" x2="1979.24" y2="1197.50" stroke="#333333" stroke-width="4.7"/>
<text transform="translate(1989.64 1207.20) rotate(-90) scale(1 1.03)" font-size="29.33" text-anchor="end" fill="#000">20</text>
<line x1="2002.80" y1="1187.40" x2="2002.80" y2="1197.50" stroke="#333333" stroke-width="4.7"/>
<text transform="translate(2013.20 1207.20) rotate(-90) scale(1 1.03)" font-size="29.33" text-anchor="end" fill="#000">23</text>
<line x1="2026.36" y1="1187.40" x2="2026.36" y2="1197.50" stroke="#333333" stroke-width="4.7"/>
<text transform="translate(2036.76 1207.20) rotate(-90) scale(1 1.03)" font-size="29.33" text-anchor="end" fill="#000">24</text>
<line x1="1399.50" y1="769.50" x2="1399.50" y2="1185.50" stroke="#000" stroke-width="4.8"/>
<line x1="1397.10" y1="1185.50" x2="2040.50" y2="1185.50" stroke="#000" stroke-width="4.8" stroke-linecap="round"/>
<line x1="1387.70" y1="1185.30" x2="1397.20" y2="1185.30" stroke="#333333" stroke-width="4.7"/>
<text transform="translate(1378.30 1195.80) scale(1 1.015)" font-size="29.33" text-anchor="end" fill="#000">0.00</text>
<line x1="1387.70" y1="1081.95" x2="1397.20" y2="1081.95" stroke="#333333" stroke-width="4.7"/>
<text transform="translate(1378.30 1092.45) scale(1 1.015)" font-size="29.33" text-anchor="end" fill="#000">0.05</text>
<line x1="1387.70" y1="978.60" x2="1397.20" y2="978.60" stroke="#333333" stroke-width="4.7"/>
<text transform="translate(1378.30 989.10) scale(1 1.015)" font-size="29.33" text-anchor="end" fill="#000">0.10</text>
<line x1="1387.70" y1="875.25" x2="1397.20" y2="875.25" stroke="#333333" stroke-width="4.7"/>
<text transform="translate(1378.30 885.75) scale(1 1.015)" font-size="29.33" text-anchor="end" fill="#000">0.15</text>
<line x1="1387.70" y1="771.90" x2="1397.20" y2="771.90" stroke="#333333" stroke-width="4.7"/>
<text transform="translate(1378.30 782.40) scale(1 1.015)" font-size="29.33" text-anchor="end" fill="#000">0.20</text>
<text transform="translate(1271.30 980.30) rotate(-90) scale(1 1.04)" font-size="29.0" text-anchor="middle" fill="#000">rs55794721</text>
<text transform="translate(1303.00 979.00) rotate(-90)" font-size="29.7" text-anchor="middle" fill="#000">Homozygote</text>
<text transform="translate(1720.50 1272.70)" font-size="29.7" text-anchor="middle" fill="#000">Genetic cluster</text>
</g>
</svg>
</body>
</html>
